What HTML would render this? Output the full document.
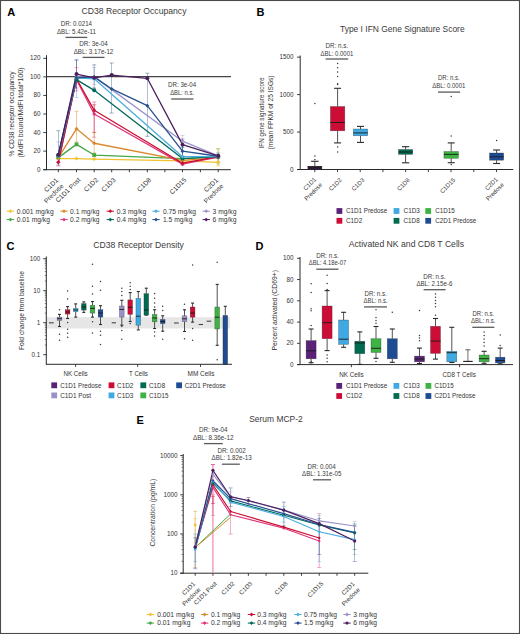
<!DOCTYPE html>
<html><head><meta charset="utf-8"><title>Figure</title>
<style>
html,body{margin:0;padding:0;background:#fff;overflow:hidden;}
svg{display:block;}
text{font-family:"Liberation Sans",sans-serif;}
</style></head><body>
<svg width="520" height="634" viewBox="0 0 520 634">
<rect x="0" y="0" width="520" height="634" fill="#fff"/>
<text x="7.30" y="16.40" font-size="11" fill="#000" font-weight="bold">A</text>
<text x="81.50" y="14.30" font-size="8.8" fill="#3a3a3a" textLength="105.00" lengthAdjust="spacingAndGlyphs">CD38 Receptor Occupancy</text>
<text x="76.40" y="26.00" font-size="6.3" fill="#3a3a3a" text-anchor="middle" textLength="31.30" lengthAdjust="spacingAndGlyphs">DR: 0.0214</text>
<text x="76.40" y="33.80" font-size="6.3" fill="#3a3a3a" text-anchor="middle" textLength="39.00" lengthAdjust="spacingAndGlyphs">ΔBL: 5.42e-11</text>
<line x1="65.50" y1="37.40" x2="87.30" y2="37.40" stroke="#5a5a5a" stroke-width="1.3"/>
<text x="93.50" y="46.00" font-size="6.3" fill="#3a3a3a" text-anchor="middle" textLength="28.60" lengthAdjust="spacingAndGlyphs">DR: 3e-04</text>
<text x="93.50" y="53.80" font-size="6.3" fill="#3a3a3a" text-anchor="middle" textLength="39.70" lengthAdjust="spacingAndGlyphs">ΔBL: 3.17e-12</text>
<line x1="82.60" y1="57.40" x2="104.50" y2="57.40" stroke="#5a5a5a" stroke-width="1.3"/>
<text x="182.10" y="86.90" font-size="6.3" fill="#3a3a3a" text-anchor="middle" textLength="28.10" lengthAdjust="spacingAndGlyphs">DR: 3e-04</text>
<text x="182.10" y="94.60" font-size="6.3" fill="#3a3a3a" text-anchor="middle" textLength="23.80" lengthAdjust="spacingAndGlyphs">ΔBL: n.s.</text>
<line x1="171.20" y1="99.00" x2="193.50" y2="99.00" stroke="#5a5a5a" stroke-width="1.3"/>
<line x1="46.50" y1="76.70" x2="231.00" y2="76.70" stroke="#454545" stroke-width="1.2"/>
<line x1="46.50" y1="55.20" x2="46.50" y2="170.10" stroke="#2b2b2b" stroke-width="1.0"/>
<line x1="43.30" y1="169.70" x2="46.50" y2="169.70" stroke="#2b2b2b" stroke-width="0.9"/>
<text x="40.50" y="171.70" font-size="6.3" fill="#333" text-anchor="end">0</text>
<line x1="43.30" y1="151.14" x2="46.50" y2="151.14" stroke="#2b2b2b" stroke-width="0.9"/>
<text x="40.50" y="153.14" font-size="6.3" fill="#333" text-anchor="end">20</text>
<line x1="43.30" y1="132.58" x2="46.50" y2="132.58" stroke="#2b2b2b" stroke-width="0.9"/>
<text x="40.50" y="134.58" font-size="6.3" fill="#333" text-anchor="end">40</text>
<line x1="43.30" y1="114.02" x2="46.50" y2="114.02" stroke="#2b2b2b" stroke-width="0.9"/>
<text x="40.50" y="116.02" font-size="6.3" fill="#333" text-anchor="end">60</text>
<line x1="43.30" y1="95.46" x2="46.50" y2="95.46" stroke="#2b2b2b" stroke-width="0.9"/>
<text x="40.50" y="97.46" font-size="6.3" fill="#333" text-anchor="end">80</text>
<line x1="43.30" y1="76.90" x2="46.50" y2="76.90" stroke="#2b2b2b" stroke-width="0.9"/>
<text x="40.50" y="78.90" font-size="6.3" fill="#333" text-anchor="end">100</text>
<line x1="43.30" y1="58.34" x2="46.50" y2="58.34" stroke="#2b2b2b" stroke-width="0.9"/>
<text x="40.50" y="60.34" font-size="6.3" fill="#333" text-anchor="end">120</text>
<line x1="43.30" y1="169.70" x2="230.80" y2="169.70" stroke="#2b2b2b" stroke-width="1.0"/>
<line x1="58.30" y1="169.70" x2="58.30" y2="172.30" stroke="#2b2b2b" stroke-width="0.9"/>
<line x1="76.50" y1="169.70" x2="76.50" y2="172.30" stroke="#2b2b2b" stroke-width="0.9"/>
<line x1="94.20" y1="169.70" x2="94.20" y2="172.30" stroke="#2b2b2b" stroke-width="0.9"/>
<line x1="111.70" y1="169.70" x2="111.70" y2="172.30" stroke="#2b2b2b" stroke-width="0.9"/>
<line x1="129.40" y1="169.70" x2="129.40" y2="172.30" stroke="#2b2b2b" stroke-width="0.9"/>
<line x1="147.30" y1="169.70" x2="147.30" y2="172.30" stroke="#2b2b2b" stroke-width="0.9"/>
<line x1="164.90" y1="169.70" x2="164.90" y2="172.30" stroke="#2b2b2b" stroke-width="0.9"/>
<line x1="182.50" y1="169.70" x2="182.50" y2="172.30" stroke="#2b2b2b" stroke-width="0.9"/>
<line x1="200.40" y1="169.70" x2="200.40" y2="172.30" stroke="#2b2b2b" stroke-width="0.9"/>
<line x1="218.20" y1="169.70" x2="218.20" y2="172.30" stroke="#2b2b2b" stroke-width="0.9"/>
<text x="58.60" y="180.70" font-size="6.6" fill="#333" text-anchor="end" transform="rotate(-45 58.60 180.70)">C1D1</text>
<text x="64.00" y="186.30" font-size="6.6" fill="#333" text-anchor="end" transform="rotate(-45 64.00 186.30)">Predose</text>
<text x="80.80" y="180.30" font-size="6.6" fill="#333" text-anchor="end" transform="rotate(-45 80.80 180.30)">C1D1 Post</text>
<text x="98.50" y="180.30" font-size="6.6" fill="#333" text-anchor="end" transform="rotate(-45 98.50 180.30)">C1D2</text>
<text x="116.00" y="180.30" font-size="6.6" fill="#333" text-anchor="end" transform="rotate(-45 116.00 180.30)">C1D3</text>
<text x="151.60" y="180.30" font-size="6.6" fill="#333" text-anchor="end" transform="rotate(-45 151.60 180.30)">C1D8</text>
<text x="186.80" y="180.30" font-size="6.6" fill="#333" text-anchor="end" transform="rotate(-45 186.80 180.30)">C1D15</text>
<text x="218.50" y="180.70" font-size="6.6" fill="#333" text-anchor="end" transform="rotate(-45 218.50 180.70)">C2D1</text>
<text x="223.90" y="186.30" font-size="6.6" fill="#333" text-anchor="end" transform="rotate(-45 223.90 186.30)">Predose</text>
<text x="14.40" y="114.00" font-size="7.3" fill="#333" text-anchor="middle" textLength="85.00" lengthAdjust="spacingAndGlyphs" transform="rotate(-90 14.40 114.00)">% CD38 receptor occupancy</text>
<text x="23.30" y="112.50" font-size="7.3" fill="#333" text-anchor="middle" textLength="90.00" lengthAdjust="spacingAndGlyphs" transform="rotate(-90 23.30 112.50)">(MdFI bound/MdFI total*100)</text>
<line x1="58.30" y1="130.72" x2="58.30" y2="165.06" stroke="#27508f" stroke-width="0.6" opacity="0.75"/>
<line x1="56.30" y1="130.72" x2="60.30" y2="130.72" stroke="#27508f" stroke-width="0.6" opacity="0.75"/>
<line x1="56.30" y1="165.06" x2="60.30" y2="165.06" stroke="#27508f" stroke-width="0.6" opacity="0.75"/>
<line x1="58.30" y1="141.86" x2="58.30" y2="162.28" stroke="#9c93c9" stroke-width="0.6" opacity="0.75"/>
<line x1="56.30" y1="141.86" x2="60.30" y2="141.86" stroke="#9c93c9" stroke-width="0.6" opacity="0.75"/>
<line x1="56.30" y1="162.28" x2="60.30" y2="162.28" stroke="#9c93c9" stroke-width="0.6" opacity="0.75"/>
<line x1="58.30" y1="158.56" x2="58.30" y2="165.99" stroke="#e0357e" stroke-width="0.6" opacity="0.75"/>
<line x1="56.30" y1="158.56" x2="60.30" y2="158.56" stroke="#e0357e" stroke-width="0.6" opacity="0.75"/>
<line x1="56.30" y1="165.99" x2="60.30" y2="165.99" stroke="#e0357e" stroke-width="0.6" opacity="0.75"/>
<line x1="76.50" y1="111.24" x2="76.50" y2="141.86" stroke="#d9882c" stroke-width="0.6" opacity="0.75"/>
<line x1="74.50" y1="111.24" x2="78.50" y2="111.24" stroke="#d9882c" stroke-width="0.6" opacity="0.75"/>
<line x1="74.50" y1="141.86" x2="78.50" y2="141.86" stroke="#d9882c" stroke-width="0.6" opacity="0.75"/>
<line x1="76.50" y1="59.27" x2="76.50" y2="97.32" stroke="#4aaee0" stroke-width="0.6" opacity="0.75"/>
<line x1="74.50" y1="59.27" x2="78.50" y2="59.27" stroke="#4aaee0" stroke-width="0.6" opacity="0.75"/>
<line x1="74.50" y1="97.32" x2="78.50" y2="97.32" stroke="#4aaee0" stroke-width="0.6" opacity="0.75"/>
<line x1="76.50" y1="60.20" x2="76.50" y2="88.04" stroke="#4b1f5e" stroke-width="0.6" opacity="0.75"/>
<line x1="74.50" y1="60.20" x2="78.50" y2="60.20" stroke="#4b1f5e" stroke-width="0.6" opacity="0.75"/>
<line x1="74.50" y1="88.04" x2="78.50" y2="88.04" stroke="#4b1f5e" stroke-width="0.6" opacity="0.75"/>
<line x1="76.50" y1="67.62" x2="76.50" y2="90.82" stroke="#e0357e" stroke-width="0.6" opacity="0.75"/>
<line x1="74.50" y1="67.62" x2="78.50" y2="67.62" stroke="#e0357e" stroke-width="0.6" opacity="0.75"/>
<line x1="74.50" y1="90.82" x2="78.50" y2="90.82" stroke="#e0357e" stroke-width="0.6" opacity="0.75"/>
<line x1="94.20" y1="101.96" x2="94.20" y2="137.22" stroke="#e0357e" stroke-width="0.6" opacity="0.75"/>
<line x1="92.20" y1="101.96" x2="96.20" y2="101.96" stroke="#e0357e" stroke-width="0.6" opacity="0.75"/>
<line x1="92.20" y1="137.22" x2="96.20" y2="137.22" stroke="#e0357e" stroke-width="0.6" opacity="0.75"/>
<line x1="94.20" y1="104.74" x2="94.20" y2="132.58" stroke="#c8102e" stroke-width="0.6" opacity="0.75"/>
<line x1="92.20" y1="104.74" x2="96.20" y2="104.74" stroke="#c8102e" stroke-width="0.6" opacity="0.75"/>
<line x1="92.20" y1="132.58" x2="96.20" y2="132.58" stroke="#c8102e" stroke-width="0.6" opacity="0.75"/>
<line x1="94.20" y1="64.84" x2="94.20" y2="88.04" stroke="#27508f" stroke-width="0.6" opacity="0.75"/>
<line x1="92.20" y1="64.84" x2="96.20" y2="64.84" stroke="#27508f" stroke-width="0.6" opacity="0.75"/>
<line x1="92.20" y1="88.04" x2="96.20" y2="88.04" stroke="#27508f" stroke-width="0.6" opacity="0.75"/>
<line x1="94.20" y1="67.62" x2="94.20" y2="84.32" stroke="#9c93c9" stroke-width="0.6" opacity="0.75"/>
<line x1="92.20" y1="67.62" x2="96.20" y2="67.62" stroke="#9c93c9" stroke-width="0.6" opacity="0.75"/>
<line x1="92.20" y1="84.32" x2="96.20" y2="84.32" stroke="#9c93c9" stroke-width="0.6" opacity="0.75"/>
<line x1="94.20" y1="132.58" x2="94.20" y2="153.00" stroke="#d9882c" stroke-width="0.6" opacity="0.75"/>
<line x1="92.20" y1="132.58" x2="96.20" y2="132.58" stroke="#d9882c" stroke-width="0.6" opacity="0.75"/>
<line x1="92.20" y1="153.00" x2="96.20" y2="153.00" stroke="#d9882c" stroke-width="0.6" opacity="0.75"/>
<line x1="111.70" y1="62.98" x2="111.70" y2="113.09" stroke="#27508f" stroke-width="0.6" opacity="0.75"/>
<line x1="109.70" y1="62.98" x2="113.70" y2="62.98" stroke="#27508f" stroke-width="0.6" opacity="0.75"/>
<line x1="109.70" y1="113.09" x2="113.70" y2="113.09" stroke="#27508f" stroke-width="0.6" opacity="0.75"/>
<line x1="147.30" y1="73.19" x2="147.30" y2="136.29" stroke="#27508f" stroke-width="0.6" opacity="0.75"/>
<line x1="145.30" y1="73.19" x2="149.30" y2="73.19" stroke="#27508f" stroke-width="0.6" opacity="0.75"/>
<line x1="145.30" y1="136.29" x2="149.30" y2="136.29" stroke="#27508f" stroke-width="0.6" opacity="0.75"/>
<line x1="182.50" y1="135.36" x2="182.50" y2="155.78" stroke="#9c93c9" stroke-width="0.6" opacity="0.75"/>
<line x1="180.50" y1="135.36" x2="184.50" y2="135.36" stroke="#9c93c9" stroke-width="0.6" opacity="0.75"/>
<line x1="180.50" y1="155.78" x2="184.50" y2="155.78" stroke="#9c93c9" stroke-width="0.6" opacity="0.75"/>
<line x1="182.50" y1="139.08" x2="182.50" y2="162.28" stroke="#4b1f5e" stroke-width="0.6" opacity="0.75"/>
<line x1="180.50" y1="139.08" x2="184.50" y2="139.08" stroke="#4b1f5e" stroke-width="0.6" opacity="0.75"/>
<line x1="180.50" y1="162.28" x2="184.50" y2="162.28" stroke="#4b1f5e" stroke-width="0.6" opacity="0.75"/>
<line x1="182.50" y1="147.43" x2="182.50" y2="165.06" stroke="#27508f" stroke-width="0.6" opacity="0.75"/>
<line x1="180.50" y1="147.43" x2="184.50" y2="147.43" stroke="#27508f" stroke-width="0.6" opacity="0.75"/>
<line x1="180.50" y1="165.06" x2="184.50" y2="165.06" stroke="#27508f" stroke-width="0.6" opacity="0.75"/>
<line x1="218.20" y1="148.36" x2="218.20" y2="164.13" stroke="#45a845" stroke-width="0.6" opacity="0.75"/>
<line x1="216.20" y1="148.36" x2="220.20" y2="148.36" stroke="#45a845" stroke-width="0.6" opacity="0.75"/>
<line x1="216.20" y1="164.13" x2="220.20" y2="164.13" stroke="#45a845" stroke-width="0.6" opacity="0.75"/>
<line x1="218.20" y1="153.00" x2="218.20" y2="162.28" stroke="#27508f" stroke-width="0.6" opacity="0.75"/>
<line x1="216.20" y1="153.00" x2="220.20" y2="153.00" stroke="#27508f" stroke-width="0.6" opacity="0.75"/>
<line x1="216.20" y1="162.28" x2="220.20" y2="162.28" stroke="#27508f" stroke-width="0.6" opacity="0.75"/>
<line x1="218.20" y1="149.28" x2="218.20" y2="165.99" stroke="#f2c12e" stroke-width="0.6" opacity="0.75"/>
<line x1="216.20" y1="149.28" x2="220.20" y2="149.28" stroke="#f2c12e" stroke-width="0.6" opacity="0.75"/>
<line x1="216.20" y1="165.99" x2="220.20" y2="165.99" stroke="#f2c12e" stroke-width="0.6" opacity="0.75"/>
<polyline points="58.30,158.56 76.50,158.56 94.20,159.03 182.50,160.88 218.20,162.28" fill="none" stroke="#f2c12e" stroke-width="1.3" stroke-linejoin="round"/>
<polyline points="58.30,157.64 76.50,144.37 94.20,155.04 182.50,158.56 218.20,156.71" fill="none" stroke="#45a845" stroke-width="1.3" stroke-linejoin="round"/>
<polyline points="58.30,157.64 76.50,128.87 94.20,143.25 182.50,160.42 218.20,157.64" fill="none" stroke="#d9882c" stroke-width="1.3" stroke-linejoin="round"/>
<polyline points="58.30,162.28 76.50,79.68 94.20,114.02 182.50,164.13 218.20,157.17" fill="none" stroke="#e0357e" stroke-width="1.3" stroke-linejoin="round"/>
<polyline points="58.30,162.28 76.50,78.76 94.20,110.31 182.50,163.20 218.20,156.71" fill="none" stroke="#c8102e" stroke-width="1.3" stroke-linejoin="round"/>
<polyline points="58.30,155.78 76.50,79.68 94.20,90.36 182.50,158.56 218.20,156.71" fill="none" stroke="#00695c" stroke-width="1.3" stroke-linejoin="round"/>
<polyline points="58.30,155.78 76.50,77.83 94.20,78.76 182.50,156.71 218.20,156.71" fill="none" stroke="#4aaee0" stroke-width="1.3" stroke-linejoin="round"/>
<polyline points="58.30,154.85 76.50,76.90 94.20,76.90 182.50,141.21 218.20,155.78" fill="none" stroke="#9c93c9" stroke-width="1.3" stroke-linejoin="round"/>
<polyline points="58.30,154.85 76.50,77.83 94.20,76.90 111.70,88.96 147.30,105.67 182.50,151.14 218.20,156.24" fill="none" stroke="#27508f" stroke-width="1.3" stroke-linejoin="round"/>
<polyline points="58.30,154.85 76.50,74.12 94.20,77.83 111.70,75.04 147.30,78.29 182.50,144.64 218.20,155.78" fill="none" stroke="#4b1f5e" stroke-width="1.3" stroke-linejoin="round"/>
<path d="M58.30 156.56L60.30 158.56L58.30 160.56L56.30 158.56Z" fill="#f2c12e"/>
<path d="M76.50 156.56L78.50 158.56L76.50 160.56L74.50 158.56Z" fill="#f2c12e"/>
<path d="M94.20 157.03L96.20 159.03L94.20 161.03L92.20 159.03Z" fill="#f2c12e"/>
<path d="M182.50 158.88L184.50 160.88L182.50 162.88L180.50 160.88Z" fill="#f2c12e"/>
<path d="M218.20 160.28L220.20 162.28L218.20 164.28L216.20 162.28Z" fill="#f2c12e"/>
<rect x="56.40" y="155.74" width="3.80" height="3.80" fill="#45a845" stroke="none" stroke-width="0.6"/>
<rect x="74.60" y="142.47" width="3.80" height="3.80" fill="#45a845" stroke="none" stroke-width="0.6"/>
<rect x="92.30" y="153.14" width="3.80" height="3.80" fill="#45a845" stroke="none" stroke-width="0.6"/>
<rect x="180.60" y="156.66" width="3.80" height="3.80" fill="#45a845" stroke="none" stroke-width="0.6"/>
<rect x="216.30" y="154.81" width="3.80" height="3.80" fill="#45a845" stroke="none" stroke-width="0.6"/>
<path d="M58.30 155.64L60.30 157.64L58.30 159.64L56.30 157.64Z" fill="#d9882c"/>
<path d="M76.50 126.87L78.50 128.87L76.50 130.87L74.50 128.87Z" fill="#d9882c"/>
<path d="M94.20 141.25L96.20 143.25L94.20 145.25L92.20 143.25Z" fill="#d9882c"/>
<path d="M182.50 158.42L184.50 160.42L182.50 162.42L180.50 160.42Z" fill="#d9882c"/>
<path d="M218.20 155.64L220.20 157.64L218.20 159.64L216.20 157.64Z" fill="#d9882c"/>
<path d="M58.30 160.28L60.30 162.28L58.30 164.28L56.30 162.28Z" fill="#e0357e"/>
<path d="M76.50 77.68L78.50 79.68L76.50 81.68L74.50 79.68Z" fill="#e0357e"/>
<path d="M94.20 112.02L96.20 114.02L94.20 116.02L92.20 114.02Z" fill="#e0357e"/>
<path d="M182.50 162.13L184.50 164.13L182.50 166.13L180.50 164.13Z" fill="#e0357e"/>
<path d="M218.20 155.17L220.20 157.17L218.20 159.17L216.20 157.17Z" fill="#e0357e"/>
<path d="M58.30 160.28L60.30 162.28L58.30 164.28L56.30 162.28Z" fill="#c8102e"/>
<path d="M76.50 76.76L78.50 78.76L76.50 80.76L74.50 78.76Z" fill="#c8102e"/>
<path d="M94.20 108.31L96.20 110.31L94.20 112.31L92.20 110.31Z" fill="#c8102e"/>
<path d="M182.50 161.20L184.50 163.20L182.50 165.20L180.50 163.20Z" fill="#c8102e"/>
<path d="M218.20 154.71L220.20 156.71L218.20 158.71L216.20 156.71Z" fill="#c8102e"/>
<circle cx="58.30" cy="155.78" r="2.0" fill="#00695c"/>
<circle cx="76.50" cy="79.68" r="2.0" fill="#00695c"/>
<circle cx="94.20" cy="90.36" r="2.0" fill="#00695c"/>
<circle cx="182.50" cy="158.56" r="2.0" fill="#00695c"/>
<circle cx="218.20" cy="156.71" r="2.0" fill="#00695c"/>
<path d="M58.30 153.78L60.30 155.78L58.30 157.78L56.30 155.78Z" fill="#4aaee0"/>
<path d="M76.50 75.83L78.50 77.83L76.50 79.83L74.50 77.83Z" fill="#4aaee0"/>
<path d="M94.20 76.76L96.20 78.76L94.20 80.76L92.20 78.76Z" fill="#4aaee0"/>
<path d="M182.50 154.71L184.50 156.71L182.50 158.71L180.50 156.71Z" fill="#4aaee0"/>
<path d="M218.20 154.71L220.20 156.71L218.20 158.71L216.20 156.71Z" fill="#4aaee0"/>
<path d="M58.30 152.85L60.30 154.85L58.30 156.85L56.30 154.85Z" fill="#9c93c9"/>
<path d="M76.50 74.90L78.50 76.90L76.50 78.90L74.50 76.90Z" fill="#9c93c9"/>
<path d="M94.20 74.90L96.20 76.90L94.20 78.90L92.20 76.90Z" fill="#9c93c9"/>
<path d="M182.50 139.21L184.50 141.21L182.50 143.21L180.50 141.21Z" fill="#9c93c9"/>
<path d="M218.20 153.78L220.20 155.78L218.20 157.78L216.20 155.78Z" fill="#9c93c9"/>
<path d="M58.30 152.85L60.30 154.85L58.30 156.85L56.30 154.85Z" fill="#27508f"/>
<path d="M76.50 75.83L78.50 77.83L76.50 79.83L74.50 77.83Z" fill="#27508f"/>
<path d="M94.20 74.90L96.20 76.90L94.20 78.90L92.20 76.90Z" fill="#27508f"/>
<path d="M111.70 86.96L113.70 88.96L111.70 90.96L109.70 88.96Z" fill="#27508f"/>
<path d="M147.30 103.67L149.30 105.67L147.30 107.67L145.30 105.67Z" fill="#27508f"/>
<path d="M182.50 149.14L184.50 151.14L182.50 153.14L180.50 151.14Z" fill="#27508f"/>
<path d="M218.20 154.24L220.20 156.24L218.20 158.24L216.20 156.24Z" fill="#27508f"/>
<circle cx="58.30" cy="154.85" r="2.0" fill="#4b1f5e"/>
<circle cx="76.50" cy="74.12" r="2.0" fill="#4b1f5e"/>
<circle cx="94.20" cy="77.83" r="2.0" fill="#4b1f5e"/>
<circle cx="111.70" cy="75.04" r="2.0" fill="#4b1f5e"/>
<circle cx="147.30" cy="78.29" r="2.0" fill="#4b1f5e"/>
<circle cx="182.50" cy="144.64" r="2.0" fill="#4b1f5e"/>
<circle cx="218.20" cy="155.78" r="2.0" fill="#4b1f5e"/>
<line x1="6.70" y1="211.20" x2="14.10" y2="211.20" stroke="#f2c12e" stroke-width="1.0"/>
<path d="M10.40 209.30L12.30 211.20L10.40 213.10L8.50 211.20Z" fill="#f2c12e"/>
<text x="16.80" y="213.55" font-size="6.7" fill="#333">0.001 mg/kg</text>
<line x1="6.70" y1="219.60" x2="14.10" y2="219.60" stroke="#45a845" stroke-width="1.0"/>
<path d="M10.40 217.70L12.30 219.60L10.40 221.50L8.50 219.60Z" fill="#45a845"/>
<text x="16.80" y="221.95" font-size="6.7" fill="#333">0.01 mg/kg</text>
<line x1="60.30" y1="211.20" x2="67.70" y2="211.20" stroke="#d9882c" stroke-width="1.0"/>
<path d="M64.00 209.30L65.90 211.20L64.00 213.10L62.10 211.20Z" fill="#d9882c"/>
<text x="70.10" y="213.55" font-size="6.7" fill="#333">0.1 mg/kg</text>
<line x1="60.30" y1="219.60" x2="67.70" y2="219.60" stroke="#e0357e" stroke-width="1.0"/>
<path d="M64.00 217.70L65.90 219.60L64.00 221.50L62.10 219.60Z" fill="#e0357e"/>
<text x="70.10" y="221.95" font-size="6.7" fill="#333">0.2 mg/kg</text>
<line x1="106.60" y1="211.20" x2="114.00" y2="211.20" stroke="#c8102e" stroke-width="1.0"/>
<path d="M110.30 209.30L112.20 211.20L110.30 213.10L108.40 211.20Z" fill="#c8102e"/>
<text x="116.80" y="213.55" font-size="6.7" fill="#333">0.3 mg/kg</text>
<line x1="106.60" y1="219.60" x2="114.00" y2="219.60" stroke="#00695c" stroke-width="1.0"/>
<path d="M110.30 217.70L112.20 219.60L110.30 221.50L108.40 219.60Z" fill="#00695c"/>
<text x="116.80" y="221.95" font-size="6.7" fill="#333">0.4 mg/kg</text>
<line x1="152.30" y1="211.20" x2="159.70" y2="211.20" stroke="#4aaee0" stroke-width="1.0"/>
<path d="M156.00 209.30L157.90 211.20L156.00 213.10L154.10 211.20Z" fill="#4aaee0"/>
<text x="163.00" y="213.55" font-size="6.7" fill="#333">0.75 mg/kg</text>
<line x1="152.30" y1="219.60" x2="159.70" y2="219.60" stroke="#27508f" stroke-width="1.0"/>
<path d="M156.00 217.70L157.90 219.60L156.00 221.50L154.10 219.60Z" fill="#27508f"/>
<text x="163.00" y="221.95" font-size="6.7" fill="#333">1.5 mg/kg</text>
<line x1="202.50" y1="211.20" x2="209.90" y2="211.20" stroke="#9c93c9" stroke-width="1.0"/>
<path d="M206.20 209.30L208.10 211.20L206.20 213.10L204.30 211.20Z" fill="#9c93c9"/>
<text x="212.60" y="213.55" font-size="6.7" fill="#333">3 mg/kg</text>
<line x1="202.50" y1="219.60" x2="209.90" y2="219.60" stroke="#4b1f5e" stroke-width="1.0"/>
<path d="M206.20 217.70L208.10 219.60L206.20 221.50L204.30 219.60Z" fill="#4b1f5e"/>
<text x="212.60" y="221.95" font-size="6.7" fill="#333">6 mg/kg</text>
<text x="256.60" y="16.20" font-size="11" fill="#000" font-weight="bold">B</text>
<text x="340.00" y="31.90" font-size="8.8" fill="#3a3a3a" textLength="124.60" lengthAdjust="spacingAndGlyphs">Type I IFN Gene Signature Score</text>
<text x="336.90" y="48.00" font-size="6.5" fill="#3a3a3a" text-anchor="middle" textLength="22.60" lengthAdjust="spacingAndGlyphs">DR: n.s.</text>
<text x="336.90" y="55.70" font-size="6.5" fill="#3a3a3a" text-anchor="middle" textLength="32.70" lengthAdjust="spacingAndGlyphs">ΔBL: 0.0001</text>
<line x1="325.60" y1="59.00" x2="348.20" y2="59.00" stroke="#5a5a5a" stroke-width="1.3"/>
<text x="448.80" y="80.40" font-size="6.5" fill="#3a3a3a" text-anchor="middle" textLength="21.60" lengthAdjust="spacingAndGlyphs">DR: n.s.</text>
<text x="448.80" y="88.00" font-size="6.5" fill="#3a3a3a" text-anchor="middle" textLength="33.20" lengthAdjust="spacingAndGlyphs">ΔBL: 0.0001</text>
<line x1="438.00" y1="92.10" x2="460.10" y2="92.10" stroke="#5a5a5a" stroke-width="1.3"/>
<line x1="300.20" y1="55.50" x2="300.20" y2="169.90" stroke="#2b2b2b" stroke-width="1.0"/>
<line x1="297.00" y1="169.50" x2="300.20" y2="169.50" stroke="#2b2b2b" stroke-width="0.9"/>
<text x="293.50" y="171.50" font-size="6.3" fill="#333" text-anchor="end">0</text>
<line x1="297.00" y1="132.05" x2="300.20" y2="132.05" stroke="#2b2b2b" stroke-width="0.9"/>
<text x="293.50" y="134.05" font-size="6.3" fill="#333" text-anchor="end">500</text>
<line x1="297.00" y1="94.60" x2="300.20" y2="94.60" stroke="#2b2b2b" stroke-width="0.9"/>
<text x="293.50" y="96.60" font-size="6.3" fill="#333" text-anchor="end">1000</text>
<line x1="297.00" y1="57.15" x2="300.20" y2="57.15" stroke="#2b2b2b" stroke-width="0.9"/>
<text x="293.50" y="59.15" font-size="6.3" fill="#333" text-anchor="end">1500</text>
<line x1="297.00" y1="169.50" x2="513.30" y2="169.50" stroke="#2b2b2b" stroke-width="1.0"/>
<line x1="314.80" y1="169.50" x2="314.80" y2="172.10" stroke="#2b2b2b" stroke-width="0.9"/>
<line x1="337.51" y1="169.50" x2="337.51" y2="172.10" stroke="#2b2b2b" stroke-width="0.9"/>
<line x1="360.22" y1="169.50" x2="360.22" y2="172.10" stroke="#2b2b2b" stroke-width="0.9"/>
<line x1="382.93" y1="169.50" x2="382.93" y2="172.10" stroke="#2b2b2b" stroke-width="0.9"/>
<line x1="405.64" y1="169.50" x2="405.64" y2="172.10" stroke="#2b2b2b" stroke-width="0.9"/>
<line x1="428.35" y1="169.50" x2="428.35" y2="172.10" stroke="#2b2b2b" stroke-width="0.9"/>
<line x1="451.06" y1="169.50" x2="451.06" y2="172.10" stroke="#2b2b2b" stroke-width="0.9"/>
<line x1="473.77" y1="169.50" x2="473.77" y2="172.10" stroke="#2b2b2b" stroke-width="0.9"/>
<line x1="496.48" y1="169.50" x2="496.48" y2="172.10" stroke="#2b2b2b" stroke-width="0.9"/>
<text x="316.60" y="179.90" font-size="6.0" fill="#333" text-anchor="end" transform="rotate(-45 316.60 179.90)">C1D1</text>
<text x="322.60" y="185.20" font-size="6.0" fill="#333" text-anchor="end" transform="rotate(-45 322.60 185.20)">Predose</text>
<text x="342.11" y="180.50" font-size="6.0" fill="#333" text-anchor="end" transform="rotate(-45 342.11 180.50)">C1D2</text>
<text x="364.82" y="180.50" font-size="6.0" fill="#333" text-anchor="end" transform="rotate(-45 364.82 180.50)">C1D3</text>
<text x="410.24" y="180.50" font-size="6.0" fill="#333" text-anchor="end" transform="rotate(-45 410.24 180.50)">C1D8</text>
<text x="455.66" y="180.50" font-size="6.0" fill="#333" text-anchor="end" transform="rotate(-45 455.66 180.50)">C1D15</text>
<text x="498.28" y="179.90" font-size="6.0" fill="#333" text-anchor="end" transform="rotate(-45 498.28 179.90)">C2D1</text>
<text x="504.28" y="185.20" font-size="6.0" fill="#333" text-anchor="end" transform="rotate(-45 504.28 185.20)">Predose</text>
<text x="264.30" y="112.90" font-size="7.6" fill="#333" text-anchor="middle" textLength="71.00" lengthAdjust="spacingAndGlyphs" transform="rotate(-90 264.30 112.90)">IFN gene signature score</text>
<text x="272.50" y="112.50" font-size="7.6" fill="#333" text-anchor="middle" textLength="74.00" lengthAdjust="spacingAndGlyphs" transform="rotate(-90 272.50 112.50)">(mean FPKM of 25 ISGs)</text>
<line x1="314.85" y1="161.30" x2="314.85" y2="166.30" stroke="#333" stroke-width="0.85"/>
<line x1="314.85" y1="169.40" x2="314.85" y2="169.40" stroke="#333" stroke-width="0.85"/>
<line x1="311.10" y1="161.30" x2="318.60" y2="161.30" stroke="#2a2a2a" stroke-width="1.1"/>
<line x1="311.10" y1="169.40" x2="318.60" y2="169.40" stroke="#2a2a2a" stroke-width="1.1"/>
<rect x="307.80" y="166.30" width="14.10" height="3.10" fill="#2e1a3a" stroke="#222" stroke-width="0.5" stroke-opacity="0.55"/>
<line x1="307.80" y1="166.80" x2="321.90" y2="166.80" stroke="#1a1a1a" stroke-width="0.9"/>
<circle cx="314.85" cy="159.60" r="0.75" fill="#3a3a3a"/>
<circle cx="314.85" cy="155.90" r="0.75" fill="#3a3a3a"/>
<circle cx="314.85" cy="103.60" r="0.75" fill="#3a3a3a"/>
<line x1="337.60" y1="88.30" x2="337.60" y2="106.50" stroke="#333" stroke-width="0.85"/>
<line x1="337.60" y1="130.80" x2="337.60" y2="142.90" stroke="#333" stroke-width="0.85"/>
<line x1="334.10" y1="88.30" x2="341.10" y2="88.30" stroke="#2a2a2a" stroke-width="1.1"/>
<line x1="334.10" y1="142.90" x2="341.10" y2="142.90" stroke="#2a2a2a" stroke-width="1.1"/>
<rect x="330.40" y="106.50" width="14.40" height="24.30" fill="#cc0e36" stroke="#222" stroke-width="0.5" stroke-opacity="0.55"/>
<line x1="330.40" y1="122.50" x2="344.80" y2="122.50" stroke="#1a1a1a" stroke-width="0.9"/>
<circle cx="337.60" cy="63.50" r="0.75" fill="#3a3a3a"/>
<circle cx="337.60" cy="67.80" r="0.75" fill="#3a3a3a"/>
<circle cx="337.60" cy="72.00" r="0.75" fill="#3a3a3a"/>
<circle cx="337.60" cy="76.50" r="0.75" fill="#3a3a3a"/>
<circle cx="337.60" cy="83.80" r="0.75" fill="#3a3a3a"/>
<circle cx="337.60" cy="84.60" r="0.75" fill="#3a3a3a"/>
<circle cx="337.60" cy="147.00" r="0.75" fill="#3a3a3a"/>
<circle cx="337.60" cy="152.00" r="0.75" fill="#3a3a3a"/>
<line x1="360.50" y1="126.40" x2="360.50" y2="129.00" stroke="#333" stroke-width="0.85"/>
<line x1="360.50" y1="135.80" x2="360.50" y2="142.40" stroke="#333" stroke-width="0.85"/>
<line x1="357.00" y1="126.40" x2="364.00" y2="126.40" stroke="#2a2a2a" stroke-width="1.1"/>
<line x1="357.00" y1="142.40" x2="364.00" y2="142.40" stroke="#2a2a2a" stroke-width="1.1"/>
<rect x="353.30" y="129.00" width="14.40" height="6.80" fill="#3fa9e3" stroke="#222" stroke-width="0.5" stroke-opacity="0.55"/>
<line x1="353.30" y1="132.90" x2="367.70" y2="132.90" stroke="#1a1a1a" stroke-width="0.9"/>
<line x1="405.60" y1="146.70" x2="405.60" y2="149.50" stroke="#333" stroke-width="0.85"/>
<line x1="405.60" y1="154.40" x2="405.60" y2="162.80" stroke="#333" stroke-width="0.85"/>
<line x1="402.00" y1="146.70" x2="409.20" y2="146.70" stroke="#2a2a2a" stroke-width="1.1"/>
<line x1="402.00" y1="162.80" x2="409.20" y2="162.80" stroke="#2a2a2a" stroke-width="1.1"/>
<rect x="398.50" y="149.50" width="14.20" height="4.90" fill="#006b50" stroke="#222" stroke-width="0.5" stroke-opacity="0.55"/>
<line x1="398.50" y1="152.00" x2="412.70" y2="152.00" stroke="#1a1a1a" stroke-width="0.9"/>
<line x1="451.20" y1="142.90" x2="451.20" y2="151.50" stroke="#333" stroke-width="0.85"/>
<line x1="451.20" y1="158.30" x2="451.20" y2="162.70" stroke="#333" stroke-width="0.85"/>
<line x1="447.70" y1="142.90" x2="454.70" y2="142.90" stroke="#2a2a2a" stroke-width="1.1"/>
<line x1="447.70" y1="162.70" x2="454.70" y2="162.70" stroke="#2a2a2a" stroke-width="1.1"/>
<rect x="443.95" y="151.50" width="14.50" height="6.80" fill="#3db343" stroke="#222" stroke-width="0.5" stroke-opacity="0.55"/>
<line x1="443.95" y1="154.40" x2="458.45" y2="154.40" stroke="#1a1a1a" stroke-width="0.9"/>
<circle cx="451.20" cy="96.50" r="0.75" fill="#3a3a3a"/>
<circle cx="451.20" cy="136.10" r="0.75" fill="#3a3a3a"/>
<circle cx="451.20" cy="164.50" r="0.75" fill="#3a3a3a"/>
<line x1="496.60" y1="150.00" x2="496.60" y2="153.00" stroke="#333" stroke-width="0.85"/>
<line x1="496.60" y1="160.20" x2="496.60" y2="163.50" stroke="#333" stroke-width="0.85"/>
<line x1="493.10" y1="150.00" x2="500.10" y2="150.00" stroke="#2a2a2a" stroke-width="1.1"/>
<line x1="493.10" y1="163.50" x2="500.10" y2="163.50" stroke="#2a2a2a" stroke-width="1.1"/>
<rect x="489.55" y="153.00" width="14.10" height="7.20" fill="#1e4c93" stroke="#222" stroke-width="0.5" stroke-opacity="0.55"/>
<line x1="489.55" y1="156.80" x2="503.65" y2="156.80" stroke="#1a1a1a" stroke-width="0.9"/>
<circle cx="496.60" cy="140.40" r="0.75" fill="#3a3a3a"/>
<rect x="336.50" y="208.10" width="5.80" height="5.80" fill="#5b2378" stroke="none" stroke-width="0.6"/>
<text x="345.90" y="213.30" font-size="6.6" fill="#333" textLength="41.30" lengthAdjust="spacingAndGlyphs">C1D1 Predose</text>
<rect x="336.50" y="217.90" width="5.80" height="5.80" fill="#cc0e36" stroke="none" stroke-width="0.6"/>
<text x="345.90" y="223.10" font-size="6.6" fill="#333" textLength="16.40" lengthAdjust="spacingAndGlyphs">C1D2</text>
<rect x="393.60" y="208.10" width="5.80" height="5.80" fill="#3fa9e3" stroke="none" stroke-width="0.6"/>
<text x="403.50" y="213.30" font-size="6.6" fill="#333" textLength="16.40" lengthAdjust="spacingAndGlyphs">C1D3</text>
<rect x="393.60" y="217.90" width="5.80" height="5.80" fill="#006b50" stroke="none" stroke-width="0.6"/>
<text x="403.50" y="223.10" font-size="6.6" fill="#333" textLength="16.20" lengthAdjust="spacingAndGlyphs">C1D8</text>
<rect x="425.30" y="208.10" width="5.80" height="5.80" fill="#3db343" stroke="none" stroke-width="0.6"/>
<text x="435.30" y="213.30" font-size="6.6" fill="#333" textLength="19.40" lengthAdjust="spacingAndGlyphs">C1D15</text>
<rect x="425.30" y="217.90" width="5.80" height="5.80" fill="#1e4c93" stroke="none" stroke-width="0.6"/>
<text x="435.30" y="223.10" font-size="6.6" fill="#333" textLength="41.00" lengthAdjust="spacingAndGlyphs">C2D1 Predose</text>
<text x="6.60" y="250.00" font-size="11" fill="#000" font-weight="bold">C</text>
<text x="93.20" y="247.70" font-size="8.8" fill="#3a3a3a" textLength="90.70" lengthAdjust="spacingAndGlyphs">CD38 Receptor Density</text>
<rect x="47.00" y="317.20" width="183.00" height="11.30" fill="#e6e6e6" stroke="none" stroke-width="0.6"/>
<line x1="46.30" y1="256.50" x2="46.30" y2="364.60" stroke="#2b2b2b" stroke-width="1.0"/>
<line x1="43.20" y1="258.70" x2="46.30" y2="258.70" stroke="#2b2b2b" stroke-width="0.9"/>
<text x="40.20" y="260.80" font-size="6.3" fill="#333" text-anchor="end">100</text>
<line x1="43.20" y1="290.70" x2="46.30" y2="290.70" stroke="#2b2b2b" stroke-width="0.9"/>
<text x="40.20" y="292.80" font-size="6.3" fill="#333" text-anchor="end">10</text>
<line x1="43.20" y1="322.70" x2="46.30" y2="322.70" stroke="#2b2b2b" stroke-width="0.9"/>
<text x="40.20" y="324.80" font-size="6.3" fill="#333" text-anchor="end">1</text>
<line x1="43.20" y1="354.70" x2="46.30" y2="354.70" stroke="#2b2b2b" stroke-width="0.9"/>
<text x="40.20" y="356.80" font-size="6.3" fill="#333" text-anchor="end">0.1</text>
<line x1="44.80" y1="345.07" x2="46.30" y2="345.07" stroke="#2b2b2b" stroke-width="0.6"/>
<line x1="44.80" y1="339.43" x2="46.30" y2="339.43" stroke="#2b2b2b" stroke-width="0.6"/>
<line x1="44.80" y1="335.43" x2="46.30" y2="335.43" stroke="#2b2b2b" stroke-width="0.6"/>
<line x1="44.80" y1="332.33" x2="46.30" y2="332.33" stroke="#2b2b2b" stroke-width="0.6"/>
<line x1="44.80" y1="329.80" x2="46.30" y2="329.80" stroke="#2b2b2b" stroke-width="0.6"/>
<line x1="44.80" y1="327.66" x2="46.30" y2="327.66" stroke="#2b2b2b" stroke-width="0.6"/>
<line x1="44.80" y1="325.80" x2="46.30" y2="325.80" stroke="#2b2b2b" stroke-width="0.6"/>
<line x1="44.80" y1="324.16" x2="46.30" y2="324.16" stroke="#2b2b2b" stroke-width="0.6"/>
<line x1="44.80" y1="313.07" x2="46.30" y2="313.07" stroke="#2b2b2b" stroke-width="0.6"/>
<line x1="44.80" y1="307.43" x2="46.30" y2="307.43" stroke="#2b2b2b" stroke-width="0.6"/>
<line x1="44.80" y1="303.43" x2="46.30" y2="303.43" stroke="#2b2b2b" stroke-width="0.6"/>
<line x1="44.80" y1="300.33" x2="46.30" y2="300.33" stroke="#2b2b2b" stroke-width="0.6"/>
<line x1="44.80" y1="297.80" x2="46.30" y2="297.80" stroke="#2b2b2b" stroke-width="0.6"/>
<line x1="44.80" y1="295.66" x2="46.30" y2="295.66" stroke="#2b2b2b" stroke-width="0.6"/>
<line x1="44.80" y1="293.80" x2="46.30" y2="293.80" stroke="#2b2b2b" stroke-width="0.6"/>
<line x1="44.80" y1="292.16" x2="46.30" y2="292.16" stroke="#2b2b2b" stroke-width="0.6"/>
<line x1="44.80" y1="281.07" x2="46.30" y2="281.07" stroke="#2b2b2b" stroke-width="0.6"/>
<line x1="44.80" y1="275.43" x2="46.30" y2="275.43" stroke="#2b2b2b" stroke-width="0.6"/>
<line x1="44.80" y1="271.43" x2="46.30" y2="271.43" stroke="#2b2b2b" stroke-width="0.6"/>
<line x1="44.80" y1="268.33" x2="46.30" y2="268.33" stroke="#2b2b2b" stroke-width="0.6"/>
<line x1="44.80" y1="265.80" x2="46.30" y2="265.80" stroke="#2b2b2b" stroke-width="0.6"/>
<line x1="44.80" y1="263.66" x2="46.30" y2="263.66" stroke="#2b2b2b" stroke-width="0.6"/>
<line x1="44.80" y1="261.80" x2="46.30" y2="261.80" stroke="#2b2b2b" stroke-width="0.6"/>
<line x1="44.80" y1="260.16" x2="46.30" y2="260.16" stroke="#2b2b2b" stroke-width="0.6"/>
<line x1="45.90" y1="364.30" x2="232.00" y2="364.30" stroke="#2b2b2b" stroke-width="1.0"/>
<line x1="75.60" y1="364.30" x2="75.60" y2="366.90" stroke="#2b2b2b" stroke-width="0.9"/>
<line x1="137.70" y1="364.30" x2="137.70" y2="366.90" stroke="#2b2b2b" stroke-width="0.9"/>
<line x1="200.50" y1="364.30" x2="200.50" y2="366.90" stroke="#2b2b2b" stroke-width="0.9"/>
<text x="75.60" y="375.70" font-size="6.8" fill="#333" text-anchor="middle" textLength="24.20" lengthAdjust="spacingAndGlyphs">NK Cells</text>
<text x="138.50" y="376.00" font-size="6.8" fill="#333" text-anchor="middle" textLength="18.80" lengthAdjust="spacingAndGlyphs">T Cells</text>
<text x="201.00" y="376.30" font-size="6.8" fill="#333" text-anchor="middle" textLength="26.90" lengthAdjust="spacingAndGlyphs">MM Cells</text>
<text x="24.40" y="310.50" font-size="7.4" fill="#333" text-anchor="middle" textLength="79.00" lengthAdjust="spacingAndGlyphs" transform="rotate(-90 24.40 310.50)">Fold change from baseline</text>
<line x1="49.00" y1="322.80" x2="53.70" y2="322.80" stroke="#444" stroke-width="1.1"/>
<line x1="59.50" y1="314.40" x2="59.50" y2="317.10" stroke="#333" stroke-width="0.85"/>
<line x1="59.50" y1="320.50" x2="59.50" y2="326.50" stroke="#333" stroke-width="0.85"/>
<line x1="58.00" y1="314.40" x2="61.00" y2="314.40" stroke="#2a2a2a" stroke-width="1.1"/>
<line x1="58.00" y1="326.50" x2="61.00" y2="326.50" stroke="#2a2a2a" stroke-width="1.1"/>
<rect x="57.15" y="317.10" width="4.70" height="3.40" fill="#9a91c8" stroke="#222" stroke-width="0.5" stroke-opacity="0.55"/>
<line x1="57.15" y1="318.70" x2="61.85" y2="318.70" stroke="#1a1a1a" stroke-width="0.9"/>
<circle cx="59.50" cy="309.70" r="0.75" fill="#3a3a3a"/>
<circle cx="59.50" cy="334.30" r="0.75" fill="#3a3a3a"/>
<circle cx="59.50" cy="340.20" r="0.75" fill="#3a3a3a"/>
<line x1="67.60" y1="306.60" x2="67.60" y2="309.70" stroke="#333" stroke-width="0.85"/>
<line x1="67.60" y1="314.10" x2="67.60" y2="318.50" stroke="#333" stroke-width="0.85"/>
<line x1="66.10" y1="306.60" x2="69.10" y2="306.60" stroke="#2a2a2a" stroke-width="1.1"/>
<line x1="66.10" y1="318.50" x2="69.10" y2="318.50" stroke="#2a2a2a" stroke-width="1.1"/>
<rect x="65.25" y="309.70" width="4.70" height="4.40" fill="#cc0e36" stroke="#222" stroke-width="0.5" stroke-opacity="0.55"/>
<line x1="65.25" y1="312.00" x2="69.95" y2="312.00" stroke="#1a1a1a" stroke-width="0.9"/>
<circle cx="67.60" cy="290.90" r="0.75" fill="#3a3a3a"/>
<circle cx="67.60" cy="298.90" r="0.75" fill="#3a3a3a"/>
<circle cx="67.60" cy="322.50" r="0.75" fill="#3a3a3a"/>
<circle cx="67.60" cy="329.20" r="0.75" fill="#3a3a3a"/>
<circle cx="67.60" cy="333.30" r="0.75" fill="#3a3a3a"/>
<circle cx="67.60" cy="337.30" r="0.75" fill="#3a3a3a"/>
<line x1="75.70" y1="303.90" x2="75.70" y2="308.40" stroke="#333" stroke-width="0.85"/>
<line x1="75.70" y1="311.70" x2="75.70" y2="317.10" stroke="#333" stroke-width="0.85"/>
<line x1="74.20" y1="303.90" x2="77.20" y2="303.90" stroke="#2a2a2a" stroke-width="1.1"/>
<line x1="74.20" y1="317.10" x2="77.20" y2="317.10" stroke="#2a2a2a" stroke-width="1.1"/>
<rect x="73.35" y="308.40" width="4.70" height="3.30" fill="#3fa9e3" stroke="#222" stroke-width="0.5" stroke-opacity="0.55"/>
<line x1="73.35" y1="310.00" x2="78.05" y2="310.00" stroke="#1a1a1a" stroke-width="0.9"/>
<line x1="83.80" y1="301.90" x2="83.80" y2="303.60" stroke="#333" stroke-width="0.85"/>
<line x1="83.80" y1="310.10" x2="83.80" y2="312.40" stroke="#333" stroke-width="0.85"/>
<line x1="82.30" y1="301.90" x2="85.30" y2="301.90" stroke="#2a2a2a" stroke-width="1.1"/>
<line x1="82.30" y1="312.40" x2="85.30" y2="312.40" stroke="#2a2a2a" stroke-width="1.1"/>
<rect x="81.45" y="303.60" width="4.70" height="6.50" fill="#006b50" stroke="#222" stroke-width="0.5" stroke-opacity="0.55"/>
<line x1="81.45" y1="307.00" x2="86.15" y2="307.00" stroke="#1a1a1a" stroke-width="0.9"/>
<line x1="92.50" y1="301.60" x2="92.50" y2="305.30" stroke="#333" stroke-width="0.85"/>
<line x1="92.50" y1="313.10" x2="92.50" y2="317.10" stroke="#333" stroke-width="0.85"/>
<line x1="91.00" y1="301.60" x2="94.00" y2="301.60" stroke="#2a2a2a" stroke-width="1.1"/>
<line x1="91.00" y1="317.10" x2="94.00" y2="317.10" stroke="#2a2a2a" stroke-width="1.1"/>
<rect x="90.15" y="305.30" width="4.70" height="7.80" fill="#3db343" stroke="#222" stroke-width="0.5" stroke-opacity="0.55"/>
<line x1="90.15" y1="308.40" x2="94.85" y2="308.40" stroke="#1a1a1a" stroke-width="0.9"/>
<circle cx="92.50" cy="264.20" r="0.75" fill="#3a3a3a"/>
<circle cx="92.50" cy="286.20" r="0.75" fill="#3a3a3a"/>
<circle cx="92.50" cy="294.00" r="0.75" fill="#3a3a3a"/>
<circle cx="92.50" cy="321.80" r="0.75" fill="#3a3a3a"/>
<circle cx="92.50" cy="333.00" r="0.75" fill="#3a3a3a"/>
<line x1="100.50" y1="305.70" x2="100.50" y2="309.70" stroke="#333" stroke-width="0.85"/>
<line x1="100.50" y1="317.10" x2="100.50" y2="324.50" stroke="#333" stroke-width="0.85"/>
<line x1="99.00" y1="305.70" x2="102.00" y2="305.70" stroke="#2a2a2a" stroke-width="1.1"/>
<line x1="99.00" y1="324.50" x2="102.00" y2="324.50" stroke="#2a2a2a" stroke-width="1.1"/>
<rect x="98.15" y="309.70" width="4.70" height="7.40" fill="#1e4c93" stroke="#222" stroke-width="0.5" stroke-opacity="0.55"/>
<line x1="98.15" y1="313.00" x2="102.85" y2="313.00" stroke="#1a1a1a" stroke-width="0.9"/>
<circle cx="100.50" cy="281.40" r="0.75" fill="#3a3a3a"/>
<circle cx="100.50" cy="290.20" r="0.75" fill="#3a3a3a"/>
<circle cx="100.50" cy="331.20" r="0.75" fill="#3a3a3a"/>
<circle cx="100.50" cy="335.30" r="0.75" fill="#3a3a3a"/>
<circle cx="100.50" cy="344.50" r="0.75" fill="#3a3a3a"/>
<line x1="111.70" y1="322.80" x2="116.00" y2="322.80" stroke="#444" stroke-width="1.1"/>
<line x1="121.80" y1="300.30" x2="121.80" y2="306.00" stroke="#333" stroke-width="0.85"/>
<line x1="121.80" y1="317.10" x2="121.80" y2="325.20" stroke="#333" stroke-width="0.85"/>
<line x1="120.30" y1="300.30" x2="123.30" y2="300.30" stroke="#2a2a2a" stroke-width="1.1"/>
<line x1="120.30" y1="325.20" x2="123.30" y2="325.20" stroke="#2a2a2a" stroke-width="1.1"/>
<rect x="119.45" y="306.00" width="4.70" height="11.10" fill="#9a91c8" stroke="#222" stroke-width="0.5" stroke-opacity="0.55"/>
<line x1="119.45" y1="309.40" x2="124.15" y2="309.40" stroke="#1a1a1a" stroke-width="0.9"/>
<circle cx="121.80" cy="288.20" r="0.75" fill="#3a3a3a"/>
<circle cx="121.80" cy="291.50" r="0.75" fill="#3a3a3a"/>
<circle cx="121.80" cy="295.60" r="0.75" fill="#3a3a3a"/>
<circle cx="121.80" cy="326.50" r="0.75" fill="#3a3a3a"/>
<circle cx="121.80" cy="330.60" r="0.75" fill="#3a3a3a"/>
<circle cx="121.80" cy="339.30" r="0.75" fill="#3a3a3a"/>
<line x1="130.20" y1="292.60" x2="130.20" y2="299.90" stroke="#333" stroke-width="0.85"/>
<line x1="130.20" y1="314.40" x2="130.20" y2="321.50" stroke="#333" stroke-width="0.85"/>
<line x1="128.70" y1="292.60" x2="131.70" y2="292.60" stroke="#2a2a2a" stroke-width="1.1"/>
<line x1="128.70" y1="321.50" x2="131.70" y2="321.50" stroke="#2a2a2a" stroke-width="1.1"/>
<rect x="127.85" y="299.90" width="4.70" height="14.50" fill="#cc0e36" stroke="#222" stroke-width="0.5" stroke-opacity="0.55"/>
<line x1="127.85" y1="307.30" x2="132.55" y2="307.30" stroke="#1a1a1a" stroke-width="0.9"/>
<circle cx="130.20" cy="282.80" r="0.75" fill="#3a3a3a"/>
<circle cx="130.20" cy="286.20" r="0.75" fill="#3a3a3a"/>
<circle cx="130.20" cy="289.50" r="0.75" fill="#3a3a3a"/>
<circle cx="130.20" cy="323.50" r="0.75" fill="#3a3a3a"/>
<line x1="138.30" y1="291.50" x2="138.30" y2="298.30" stroke="#333" stroke-width="0.85"/>
<line x1="138.30" y1="325.20" x2="138.30" y2="329.90" stroke="#333" stroke-width="0.85"/>
<line x1="136.80" y1="291.50" x2="139.80" y2="291.50" stroke="#2a2a2a" stroke-width="1.1"/>
<line x1="136.80" y1="329.90" x2="139.80" y2="329.90" stroke="#2a2a2a" stroke-width="1.1"/>
<rect x="135.95" y="298.30" width="4.70" height="26.90" fill="#3fa9e3" stroke="#222" stroke-width="0.5" stroke-opacity="0.55"/>
<line x1="135.95" y1="316.20" x2="140.65" y2="316.20" stroke="#1a1a1a" stroke-width="0.9"/>
<line x1="146.30" y1="288.20" x2="146.30" y2="293.60" stroke="#333" stroke-width="0.85"/>
<line x1="146.30" y1="315.10" x2="146.30" y2="315.10" stroke="#333" stroke-width="0.85"/>
<line x1="144.80" y1="288.20" x2="147.80" y2="288.20" stroke="#2a2a2a" stroke-width="1.1"/>
<line x1="144.80" y1="315.10" x2="147.80" y2="315.10" stroke="#2a2a2a" stroke-width="1.1"/>
<rect x="143.95" y="293.60" width="4.70" height="21.50" fill="#006b50" stroke="#222" stroke-width="0.5" stroke-opacity="0.55"/>
<line x1="143.95" y1="310.00" x2="148.65" y2="310.00" stroke="#1a1a1a" stroke-width="0.9"/>
<line x1="154.60" y1="309.70" x2="154.60" y2="314.40" stroke="#333" stroke-width="0.85"/>
<line x1="154.60" y1="321.80" x2="154.60" y2="328.50" stroke="#333" stroke-width="0.85"/>
<line x1="153.10" y1="309.70" x2="156.10" y2="309.70" stroke="#2a2a2a" stroke-width="1.1"/>
<line x1="153.10" y1="328.50" x2="156.10" y2="328.50" stroke="#2a2a2a" stroke-width="1.1"/>
<rect x="152.25" y="314.40" width="4.70" height="7.40" fill="#3db343" stroke="#222" stroke-width="0.5" stroke-opacity="0.55"/>
<line x1="152.25" y1="318.00" x2="156.95" y2="318.00" stroke="#1a1a1a" stroke-width="0.9"/>
<circle cx="154.60" cy="293.60" r="0.75" fill="#3a3a3a"/>
<circle cx="154.60" cy="298.30" r="0.75" fill="#3a3a3a"/>
<circle cx="154.60" cy="303.00" r="0.75" fill="#3a3a3a"/>
<circle cx="154.60" cy="307.00" r="0.75" fill="#3a3a3a"/>
<circle cx="154.60" cy="332.00" r="0.75" fill="#3a3a3a"/>
<circle cx="154.60" cy="336.00" r="0.75" fill="#3a3a3a"/>
<line x1="162.70" y1="315.80" x2="162.70" y2="319.50" stroke="#333" stroke-width="0.85"/>
<line x1="162.70" y1="323.60" x2="162.70" y2="331.20" stroke="#333" stroke-width="0.85"/>
<line x1="161.20" y1="315.80" x2="164.20" y2="315.80" stroke="#2a2a2a" stroke-width="1.1"/>
<line x1="161.20" y1="331.20" x2="164.20" y2="331.20" stroke="#2a2a2a" stroke-width="1.1"/>
<rect x="160.35" y="319.50" width="4.70" height="4.10" fill="#1e4c93" stroke="#222" stroke-width="0.5" stroke-opacity="0.55"/>
<line x1="160.35" y1="321.50" x2="165.05" y2="321.50" stroke="#1a1a1a" stroke-width="0.9"/>
<circle cx="162.70" cy="306.30" r="0.75" fill="#3a3a3a"/>
<circle cx="162.70" cy="310.40" r="0.75" fill="#3a3a3a"/>
<circle cx="162.70" cy="339.30" r="0.75" fill="#3a3a3a"/>
<line x1="174.00" y1="323.00" x2="178.70" y2="323.00" stroke="#444" stroke-width="1.1"/>
<line x1="184.50" y1="309.80" x2="184.50" y2="315.80" stroke="#333" stroke-width="0.85"/>
<line x1="184.50" y1="321.70" x2="184.50" y2="331.50" stroke="#333" stroke-width="0.85"/>
<line x1="183.00" y1="309.80" x2="186.00" y2="309.80" stroke="#2a2a2a" stroke-width="1.1"/>
<line x1="183.00" y1="331.50" x2="186.00" y2="331.50" stroke="#2a2a2a" stroke-width="1.1"/>
<rect x="182.15" y="315.80" width="4.70" height="5.90" fill="#9a91c8" stroke="#222" stroke-width="0.5" stroke-opacity="0.55"/>
<line x1="182.15" y1="318.80" x2="186.85" y2="318.80" stroke="#1a1a1a" stroke-width="0.9"/>
<circle cx="184.50" cy="304.30" r="0.75" fill="#3a3a3a"/>
<circle cx="184.50" cy="338.80" r="0.75" fill="#3a3a3a"/>
<line x1="192.60" y1="303.10" x2="192.60" y2="307.00" stroke="#333" stroke-width="0.85"/>
<line x1="192.60" y1="317.20" x2="192.60" y2="322.10" stroke="#333" stroke-width="0.85"/>
<line x1="191.10" y1="303.10" x2="194.10" y2="303.10" stroke="#2a2a2a" stroke-width="1.1"/>
<line x1="191.10" y1="322.10" x2="194.10" y2="322.10" stroke="#2a2a2a" stroke-width="1.1"/>
<rect x="190.25" y="307.00" width="4.70" height="10.20" fill="#cc0e36" stroke="#222" stroke-width="0.5" stroke-opacity="0.55"/>
<line x1="190.25" y1="313.00" x2="194.95" y2="313.00" stroke="#1a1a1a" stroke-width="0.9"/>
<circle cx="192.60" cy="265.00" r="0.75" fill="#3a3a3a"/>
<circle cx="192.60" cy="328.40" r="0.75" fill="#3a3a3a"/>
<circle cx="192.60" cy="340.20" r="0.75" fill="#3a3a3a"/>
<line x1="198.70" y1="324.50" x2="203.00" y2="324.50" stroke="#444" stroke-width="1.1"/>
<line x1="206.60" y1="321.20" x2="211.30" y2="321.20" stroke="#444" stroke-width="1.1"/>
<line x1="217.20" y1="284.40" x2="217.20" y2="307.00" stroke="#333" stroke-width="0.85"/>
<line x1="217.20" y1="329.00" x2="217.20" y2="345.30" stroke="#333" stroke-width="0.85"/>
<line x1="215.70" y1="284.40" x2="218.70" y2="284.40" stroke="#2a2a2a" stroke-width="1.1"/>
<line x1="215.70" y1="345.30" x2="218.70" y2="345.30" stroke="#2a2a2a" stroke-width="1.1"/>
<rect x="214.85" y="307.00" width="4.70" height="22.00" fill="#3db343" stroke="#222" stroke-width="0.5" stroke-opacity="0.55"/>
<line x1="214.85" y1="317.20" x2="219.55" y2="317.20" stroke="#1a1a1a" stroke-width="0.9"/>
<circle cx="217.20" cy="262.30" r="0.75" fill="#3a3a3a"/>
<circle cx="217.20" cy="359.80" r="0.75" fill="#3a3a3a"/>
<line x1="225.30" y1="306.30" x2="225.30" y2="315.40" stroke="#333" stroke-width="0.85"/>
<line x1="225.30" y1="364.00" x2="225.30" y2="364.00" stroke="#333" stroke-width="0.85"/>
<line x1="223.80" y1="306.30" x2="226.80" y2="306.30" stroke="#2a2a2a" stroke-width="1.1"/>
<line x1="223.80" y1="364.00" x2="226.80" y2="364.00" stroke="#2a2a2a" stroke-width="1.1"/>
<rect x="222.95" y="315.40" width="4.70" height="48.60" fill="#1e4c93" stroke="#222" stroke-width="0.5" stroke-opacity="0.55"/>
<rect x="51.30" y="382.40" width="5.80" height="5.80" fill="#5b2378" stroke="none" stroke-width="0.6"/>
<text x="60.20" y="387.60" font-size="6.6" fill="#333" textLength="41.30" lengthAdjust="spacingAndGlyphs">C1D1 Predose</text>
<rect x="51.30" y="392.50" width="5.80" height="5.80" fill="#9a91c8" stroke="none" stroke-width="0.6"/>
<text x="60.20" y="397.70" font-size="6.6" fill="#333" textLength="30.80" lengthAdjust="spacingAndGlyphs">C1D1 Post</text>
<rect x="108.60" y="382.40" width="5.80" height="5.80" fill="#cc0e36" stroke="none" stroke-width="0.6"/>
<text x="117.00" y="387.60" font-size="6.6" fill="#333" textLength="16.40" lengthAdjust="spacingAndGlyphs">C1D2</text>
<rect x="108.60" y="392.50" width="5.80" height="5.80" fill="#3fa9e3" stroke="none" stroke-width="0.6"/>
<text x="117.00" y="397.70" font-size="6.6" fill="#333" textLength="16.40" lengthAdjust="spacingAndGlyphs">C1D3</text>
<rect x="140.40" y="382.40" width="5.80" height="5.80" fill="#006b50" stroke="none" stroke-width="0.6"/>
<text x="149.00" y="387.60" font-size="6.6" fill="#333" textLength="16.20" lengthAdjust="spacingAndGlyphs">C1D8</text>
<rect x="140.40" y="392.50" width="5.80" height="5.80" fill="#3db343" stroke="none" stroke-width="0.6"/>
<text x="149.00" y="397.70" font-size="6.6" fill="#333" textLength="19.40" lengthAdjust="spacingAndGlyphs">C1D15</text>
<rect x="176.20" y="382.40" width="5.80" height="5.80" fill="#1e4c93" stroke="none" stroke-width="0.6"/>
<text x="184.80" y="387.60" font-size="6.6" fill="#333" textLength="41.00" lengthAdjust="spacingAndGlyphs">C2D1 Predose</text>
<text x="255.40" y="249.90" font-size="11" fill="#000" font-weight="bold">D</text>
<text x="348.70" y="247.10" font-size="8.8" fill="#3a3a3a" textLength="115.40" lengthAdjust="spacingAndGlyphs">Activated NK and CD8 T Cells</text>
<line x1="300.00" y1="257.00" x2="300.00" y2="365.00" stroke="#2b2b2b" stroke-width="1.0"/>
<line x1="297.00" y1="364.60" x2="300.00" y2="364.60" stroke="#2b2b2b" stroke-width="0.9"/>
<text x="293.60" y="366.70" font-size="6.3" fill="#333" text-anchor="end">0</text>
<line x1="297.00" y1="343.34" x2="300.00" y2="343.34" stroke="#2b2b2b" stroke-width="0.9"/>
<text x="293.60" y="345.44" font-size="6.3" fill="#333" text-anchor="end">20</text>
<line x1="297.00" y1="322.08" x2="300.00" y2="322.08" stroke="#2b2b2b" stroke-width="0.9"/>
<text x="293.60" y="324.18" font-size="6.3" fill="#333" text-anchor="end">40</text>
<line x1="297.00" y1="300.82" x2="300.00" y2="300.82" stroke="#2b2b2b" stroke-width="0.9"/>
<text x="293.60" y="302.92" font-size="6.3" fill="#333" text-anchor="end">60</text>
<line x1="297.00" y1="279.56" x2="300.00" y2="279.56" stroke="#2b2b2b" stroke-width="0.9"/>
<text x="293.60" y="281.66" font-size="6.3" fill="#333" text-anchor="end">80</text>
<line x1="297.00" y1="258.30" x2="300.00" y2="258.30" stroke="#2b2b2b" stroke-width="0.9"/>
<text x="293.60" y="260.40" font-size="6.3" fill="#333" text-anchor="end">100</text>
<line x1="297.00" y1="364.60" x2="513.00" y2="364.60" stroke="#2b2b2b" stroke-width="1.0"/>
<line x1="351.40" y1="364.60" x2="351.40" y2="367.20" stroke="#2b2b2b" stroke-width="0.9"/>
<line x1="459.60" y1="364.60" x2="459.60" y2="367.20" stroke="#2b2b2b" stroke-width="0.9"/>
<text x="351.40" y="376.70" font-size="6.8" fill="#333" text-anchor="middle" textLength="24.50" lengthAdjust="spacingAndGlyphs">NK Cells</text>
<text x="459.20" y="376.70" font-size="6.8" fill="#333" text-anchor="middle" textLength="33.20" lengthAdjust="spacingAndGlyphs">CD8 T Cells</text>
<text x="277.10" y="310.20" font-size="7.4" fill="#333" text-anchor="middle" textLength="80.50" lengthAdjust="spacingAndGlyphs" transform="rotate(-90 277.10 310.20)">Percent activated (CD69+)</text>
<text x="327.50" y="257.80" font-size="6.5" fill="#3a3a3a" text-anchor="middle" textLength="22.50" lengthAdjust="spacingAndGlyphs">DR: n.s.</text>
<text x="327.50" y="265.20" font-size="6.5" fill="#3a3a3a" text-anchor="middle" textLength="37.50" lengthAdjust="spacingAndGlyphs">ΔBL: 4.18e-07</text>
<line x1="316.30" y1="269.20" x2="338.50" y2="269.20" stroke="#5a5a5a" stroke-width="1.3"/>
<text x="375.60" y="296.00" font-size="6.5" fill="#3a3a3a" text-anchor="middle" textLength="22.10" lengthAdjust="spacingAndGlyphs">DR: n.s.</text>
<text x="375.60" y="303.30" font-size="6.5" fill="#3a3a3a" text-anchor="middle" textLength="24.00" lengthAdjust="spacingAndGlyphs">ΔBL: n.s.</text>
<line x1="364.00" y1="306.90" x2="387.00" y2="306.90" stroke="#5a5a5a" stroke-width="1.3"/>
<text x="434.40" y="278.90" font-size="6.5" fill="#3a3a3a" text-anchor="middle" textLength="22.20" lengthAdjust="spacingAndGlyphs">DR: n.s.</text>
<text x="434.40" y="286.30" font-size="6.5" fill="#3a3a3a" text-anchor="middle" textLength="36.00" lengthAdjust="spacingAndGlyphs">ΔBL: 2.15e-6</text>
<line x1="423.60" y1="289.70" x2="445.60" y2="289.70" stroke="#5a5a5a" stroke-width="1.3"/>
<text x="483.30" y="315.90" font-size="6.5" fill="#3a3a3a" text-anchor="middle" textLength="21.60" lengthAdjust="spacingAndGlyphs">DR: n.s.</text>
<text x="483.30" y="322.90" font-size="6.5" fill="#3a3a3a" text-anchor="middle" textLength="24.50" lengthAdjust="spacingAndGlyphs">ΔBL: n.s.</text>
<line x1="472.30" y1="327.30" x2="494.30" y2="327.30" stroke="#5a5a5a" stroke-width="1.3"/>
<line x1="311.10" y1="329.00" x2="311.10" y2="340.60" stroke="#333" stroke-width="0.85"/>
<line x1="311.10" y1="358.80" x2="311.10" y2="362.70" stroke="#333" stroke-width="0.85"/>
<line x1="308.60" y1="329.00" x2="313.60" y2="329.00" stroke="#2a2a2a" stroke-width="1.1"/>
<line x1="308.60" y1="362.70" x2="313.60" y2="362.70" stroke="#2a2a2a" stroke-width="1.1"/>
<rect x="306.10" y="340.60" width="10.00" height="18.20" fill="#5b2378" stroke="#222" stroke-width="0.5" stroke-opacity="0.55"/>
<line x1="306.10" y1="350.80" x2="316.10" y2="350.80" stroke="#1a1a1a" stroke-width="0.9"/>
<circle cx="311.10" cy="325.60" r="0.75" fill="#3a3a3a"/>
<circle cx="311.10" cy="310.80" r="0.75" fill="#3a3a3a"/>
<circle cx="311.10" cy="308.80" r="0.75" fill="#3a3a3a"/>
<circle cx="311.10" cy="292.50" r="0.75" fill="#3a3a3a"/>
<circle cx="311.10" cy="283.80" r="0.75" fill="#3a3a3a"/>
<circle cx="311.10" cy="361.80" r="0.75" fill="#3a3a3a"/>
<circle cx="311.10" cy="362.80" r="0.75" fill="#3a3a3a"/>
<line x1="327.10" y1="290.60" x2="327.10" y2="306.00" stroke="#333" stroke-width="0.85"/>
<line x1="327.10" y1="338.70" x2="327.10" y2="350.60" stroke="#333" stroke-width="0.85"/>
<line x1="324.60" y1="290.60" x2="329.60" y2="290.60" stroke="#2a2a2a" stroke-width="1.1"/>
<line x1="324.60" y1="350.60" x2="329.60" y2="350.60" stroke="#2a2a2a" stroke-width="1.1"/>
<rect x="322.10" y="306.00" width="10.00" height="32.70" fill="#cc0e36" stroke="#222" stroke-width="0.5" stroke-opacity="0.55"/>
<line x1="322.10" y1="322.70" x2="332.10" y2="322.70" stroke="#1a1a1a" stroke-width="0.9"/>
<circle cx="327.10" cy="275.20" r="0.75" fill="#3a3a3a"/>
<circle cx="327.10" cy="283.50" r="0.75" fill="#3a3a3a"/>
<circle cx="327.10" cy="289.60" r="0.75" fill="#3a3a3a"/>
<circle cx="327.10" cy="355.00" r="0.75" fill="#3a3a3a"/>
<circle cx="327.10" cy="358.30" r="0.75" fill="#3a3a3a"/>
<circle cx="327.10" cy="361.70" r="0.75" fill="#3a3a3a"/>
<line x1="343.60" y1="312.30" x2="343.60" y2="320.00" stroke="#333" stroke-width="0.85"/>
<line x1="343.60" y1="344.40" x2="343.60" y2="347.30" stroke="#333" stroke-width="0.85"/>
<line x1="341.10" y1="312.30" x2="346.10" y2="312.30" stroke="#2a2a2a" stroke-width="1.1"/>
<line x1="341.10" y1="347.30" x2="346.10" y2="347.30" stroke="#2a2a2a" stroke-width="1.1"/>
<rect x="338.60" y="320.00" width="10.00" height="24.40" fill="#3fa9e3" stroke="#222" stroke-width="0.5" stroke-opacity="0.55"/>
<line x1="338.60" y1="339.20" x2="348.60" y2="339.20" stroke="#1a1a1a" stroke-width="0.9"/>
<line x1="359.80" y1="331.90" x2="359.80" y2="341.20" stroke="#333" stroke-width="0.85"/>
<line x1="359.80" y1="353.70" x2="359.80" y2="364.40" stroke="#333" stroke-width="0.85"/>
<line x1="357.30" y1="331.90" x2="362.30" y2="331.90" stroke="#2a2a2a" stroke-width="1.1"/>
<line x1="357.30" y1="364.40" x2="362.30" y2="364.40" stroke="#2a2a2a" stroke-width="1.1"/>
<rect x="354.80" y="341.20" width="10.00" height="12.50" fill="#006b50" stroke="#222" stroke-width="0.5" stroke-opacity="0.55"/>
<line x1="354.80" y1="343.00" x2="364.80" y2="343.00" stroke="#1a1a1a" stroke-width="0.9"/>
<line x1="376.00" y1="326.50" x2="376.00" y2="338.70" stroke="#333" stroke-width="0.85"/>
<line x1="376.00" y1="352.50" x2="376.00" y2="358.30" stroke="#333" stroke-width="0.85"/>
<line x1="373.50" y1="326.50" x2="378.50" y2="326.50" stroke="#2a2a2a" stroke-width="1.1"/>
<line x1="373.50" y1="358.30" x2="378.50" y2="358.30" stroke="#2a2a2a" stroke-width="1.1"/>
<rect x="371.00" y="338.70" width="10.00" height="13.80" fill="#3db343" stroke="#222" stroke-width="0.5" stroke-opacity="0.55"/>
<line x1="371.00" y1="348.30" x2="381.00" y2="348.30" stroke="#1a1a1a" stroke-width="0.9"/>
<circle cx="376.00" cy="309.80" r="0.75" fill="#3a3a3a"/>
<circle cx="376.00" cy="317.50" r="0.75" fill="#3a3a3a"/>
<circle cx="376.00" cy="320.40" r="0.75" fill="#3a3a3a"/>
<circle cx="376.00" cy="323.30" r="0.75" fill="#3a3a3a"/>
<circle cx="376.00" cy="361.50" r="0.75" fill="#3a3a3a"/>
<line x1="392.30" y1="329.00" x2="392.30" y2="338.70" stroke="#333" stroke-width="0.85"/>
<line x1="392.30" y1="358.80" x2="392.30" y2="362.30" stroke="#333" stroke-width="0.85"/>
<line x1="389.80" y1="329.00" x2="394.80" y2="329.00" stroke="#2a2a2a" stroke-width="1.1"/>
<line x1="389.80" y1="362.30" x2="394.80" y2="362.30" stroke="#2a2a2a" stroke-width="1.1"/>
<rect x="387.30" y="338.70" width="10.00" height="20.10" fill="#1e4c93" stroke="#222" stroke-width="0.5" stroke-opacity="0.55"/>
<circle cx="392.30" cy="312.30" r="0.75" fill="#3a3a3a"/>
<line x1="419.50" y1="348.10" x2="419.50" y2="356.10" stroke="#333" stroke-width="0.85"/>
<line x1="419.50" y1="361.80" x2="419.50" y2="363.50" stroke="#333" stroke-width="0.85"/>
<line x1="417.00" y1="348.10" x2="422.00" y2="348.10" stroke="#2a2a2a" stroke-width="1.1"/>
<line x1="417.00" y1="363.50" x2="422.00" y2="363.50" stroke="#2a2a2a" stroke-width="1.1"/>
<rect x="414.50" y="356.10" width="10.00" height="5.70" fill="#5b2378" stroke="#222" stroke-width="0.5" stroke-opacity="0.55"/>
<line x1="414.50" y1="359.00" x2="424.50" y2="359.00" stroke="#1a1a1a" stroke-width="0.9"/>
<circle cx="419.50" cy="310.40" r="0.75" fill="#3a3a3a"/>
<circle cx="419.50" cy="335.40" r="0.75" fill="#3a3a3a"/>
<circle cx="419.50" cy="338.00" r="0.75" fill="#3a3a3a"/>
<circle cx="419.50" cy="340.70" r="0.75" fill="#3a3a3a"/>
<line x1="435.50" y1="318.50" x2="435.50" y2="326.30" stroke="#333" stroke-width="0.85"/>
<line x1="435.50" y1="353.40" x2="435.50" y2="359.10" stroke="#333" stroke-width="0.85"/>
<line x1="433.00" y1="318.50" x2="438.00" y2="318.50" stroke="#2a2a2a" stroke-width="1.1"/>
<line x1="433.00" y1="359.10" x2="438.00" y2="359.10" stroke="#2a2a2a" stroke-width="1.1"/>
<rect x="430.50" y="326.30" width="10.00" height="27.10" fill="#cc0e36" stroke="#222" stroke-width="0.5" stroke-opacity="0.55"/>
<line x1="430.50" y1="341.10" x2="440.50" y2="341.10" stroke="#1a1a1a" stroke-width="0.9"/>
<circle cx="435.50" cy="294.00" r="0.75" fill="#3a3a3a"/>
<circle cx="435.50" cy="297.20" r="0.75" fill="#3a3a3a"/>
<circle cx="435.50" cy="300.40" r="0.75" fill="#3a3a3a"/>
<circle cx="435.50" cy="303.60" r="0.75" fill="#3a3a3a"/>
<circle cx="435.50" cy="306.80" r="0.75" fill="#3a3a3a"/>
<circle cx="435.50" cy="315.30" r="0.75" fill="#3a3a3a"/>
<line x1="451.80" y1="327.30" x2="451.80" y2="351.30" stroke="#333" stroke-width="0.85"/>
<line x1="451.80" y1="361.80" x2="451.80" y2="362.50" stroke="#333" stroke-width="0.85"/>
<line x1="449.30" y1="327.30" x2="454.30" y2="327.30" stroke="#2a2a2a" stroke-width="1.1"/>
<line x1="449.30" y1="362.50" x2="454.30" y2="362.50" stroke="#2a2a2a" stroke-width="1.1"/>
<rect x="446.80" y="351.30" width="10.00" height="10.50" fill="#3fa9e3" stroke="#222" stroke-width="0.5" stroke-opacity="0.55"/>
<line x1="446.80" y1="352.70" x2="456.80" y2="352.70" stroke="#1a1a1a" stroke-width="0.9"/>
<line x1="467.90" y1="349.80" x2="467.90" y2="361.40" stroke="#333" stroke-width="0.7"/>
<line x1="465.40" y1="349.80" x2="470.40" y2="349.80" stroke="#333" stroke-width="0.8"/>
<line x1="463.20" y1="361.40" x2="472.70" y2="361.40" stroke="#1a1a1a" stroke-width="1.1"/>
<line x1="484.10" y1="351.30" x2="484.10" y2="355.00" stroke="#333" stroke-width="0.85"/>
<line x1="484.10" y1="361.80" x2="484.10" y2="363.30" stroke="#333" stroke-width="0.85"/>
<line x1="481.60" y1="351.30" x2="486.60" y2="351.30" stroke="#2a2a2a" stroke-width="1.1"/>
<line x1="481.60" y1="363.30" x2="486.60" y2="363.30" stroke="#2a2a2a" stroke-width="1.1"/>
<rect x="479.10" y="355.00" width="10.00" height="6.80" fill="#3db343" stroke="#222" stroke-width="0.5" stroke-opacity="0.55"/>
<line x1="479.10" y1="358.70" x2="489.10" y2="358.70" stroke="#1a1a1a" stroke-width="0.9"/>
<circle cx="484.10" cy="332.00" r="0.75" fill="#3a3a3a"/>
<circle cx="484.10" cy="335.50" r="0.75" fill="#3a3a3a"/>
<circle cx="484.10" cy="339.00" r="0.75" fill="#3a3a3a"/>
<circle cx="484.10" cy="342.50" r="0.75" fill="#3a3a3a"/>
<circle cx="484.10" cy="346.00" r="0.75" fill="#3a3a3a"/>
<line x1="500.20" y1="348.10" x2="500.20" y2="357.20" stroke="#333" stroke-width="0.85"/>
<line x1="500.20" y1="362.90" x2="500.20" y2="363.80" stroke="#333" stroke-width="0.85"/>
<line x1="497.70" y1="348.10" x2="502.70" y2="348.10" stroke="#2a2a2a" stroke-width="1.1"/>
<line x1="497.70" y1="363.80" x2="502.70" y2="363.80" stroke="#2a2a2a" stroke-width="1.1"/>
<rect x="495.45" y="357.20" width="9.50" height="5.70" fill="#1e4c93" stroke="#222" stroke-width="0.5" stroke-opacity="0.55"/>
<line x1="495.45" y1="360.50" x2="504.95" y2="360.50" stroke="#1a1a1a" stroke-width="0.9"/>
<circle cx="500.20" cy="335.00" r="0.75" fill="#3a3a3a"/>
<circle cx="500.20" cy="345.50" r="0.75" fill="#3a3a3a"/>
<rect x="336.30" y="383.00" width="5.80" height="5.80" fill="#5b2378" stroke="none" stroke-width="0.6"/>
<text x="345.90" y="388.20" font-size="6.6" fill="#333" textLength="41.30" lengthAdjust="spacingAndGlyphs">C1D1 Predose</text>
<rect x="336.30" y="393.10" width="5.80" height="5.80" fill="#cc0e36" stroke="none" stroke-width="0.6"/>
<text x="345.90" y="398.30" font-size="6.6" fill="#333" textLength="16.40" lengthAdjust="spacingAndGlyphs">C1D2</text>
<rect x="393.50" y="383.00" width="5.80" height="5.80" fill="#3fa9e3" stroke="none" stroke-width="0.6"/>
<text x="403.50" y="388.20" font-size="6.6" fill="#333" textLength="16.40" lengthAdjust="spacingAndGlyphs">C1D3</text>
<rect x="393.50" y="393.10" width="5.80" height="5.80" fill="#006b50" stroke="none" stroke-width="0.6"/>
<text x="403.50" y="398.30" font-size="6.6" fill="#333" textLength="16.20" lengthAdjust="spacingAndGlyphs">C1D8</text>
<rect x="425.50" y="383.00" width="5.80" height="5.80" fill="#3db343" stroke="none" stroke-width="0.6"/>
<text x="434.40" y="388.20" font-size="6.6" fill="#333" textLength="19.40" lengthAdjust="spacingAndGlyphs">C1D15</text>
<rect x="425.50" y="393.10" width="5.80" height="5.80" fill="#1e4c93" stroke="none" stroke-width="0.6"/>
<text x="434.40" y="398.30" font-size="6.6" fill="#333" textLength="41.00" lengthAdjust="spacingAndGlyphs">C2D1 Predose</text>
<text x="136.60" y="423.90" font-size="11" fill="#000" font-weight="bold">E</text>
<text x="249.20" y="422.30" font-size="8.8" fill="#3a3a3a" textLength="53.50" lengthAdjust="spacingAndGlyphs">Serum MCP-2</text>
<line x1="183.20" y1="454.00" x2="183.20" y2="573.60" stroke="#2b2b2b" stroke-width="1.0"/>
<line x1="180.20" y1="573.20" x2="183.20" y2="573.20" stroke="#2b2b2b" stroke-width="0.9"/>
<text x="177.60" y="575.30" font-size="6.3" fill="#333" text-anchor="end">10</text>
<line x1="180.20" y1="534.00" x2="183.20" y2="534.00" stroke="#2b2b2b" stroke-width="0.9"/>
<text x="177.60" y="536.10" font-size="6.3" fill="#333" text-anchor="end">100</text>
<line x1="180.20" y1="494.80" x2="183.20" y2="494.80" stroke="#2b2b2b" stroke-width="0.9"/>
<text x="177.60" y="496.90" font-size="6.3" fill="#333" text-anchor="end">1000</text>
<line x1="180.20" y1="455.60" x2="183.20" y2="455.60" stroke="#2b2b2b" stroke-width="0.9"/>
<text x="177.60" y="457.70" font-size="6.3" fill="#333" text-anchor="end">10000</text>
<line x1="181.60" y1="561.40" x2="183.20" y2="561.40" stroke="#2b2b2b" stroke-width="0.6"/>
<line x1="181.60" y1="554.50" x2="183.20" y2="554.50" stroke="#2b2b2b" stroke-width="0.6"/>
<line x1="181.60" y1="549.60" x2="183.20" y2="549.60" stroke="#2b2b2b" stroke-width="0.6"/>
<line x1="181.60" y1="545.80" x2="183.20" y2="545.80" stroke="#2b2b2b" stroke-width="0.6"/>
<line x1="181.60" y1="542.70" x2="183.20" y2="542.70" stroke="#2b2b2b" stroke-width="0.6"/>
<line x1="181.60" y1="540.07" x2="183.20" y2="540.07" stroke="#2b2b2b" stroke-width="0.6"/>
<line x1="181.60" y1="537.80" x2="183.20" y2="537.80" stroke="#2b2b2b" stroke-width="0.6"/>
<line x1="181.60" y1="535.79" x2="183.20" y2="535.79" stroke="#2b2b2b" stroke-width="0.6"/>
<line x1="181.60" y1="522.20" x2="183.20" y2="522.20" stroke="#2b2b2b" stroke-width="0.6"/>
<line x1="181.60" y1="515.30" x2="183.20" y2="515.30" stroke="#2b2b2b" stroke-width="0.6"/>
<line x1="181.60" y1="510.40" x2="183.20" y2="510.40" stroke="#2b2b2b" stroke-width="0.6"/>
<line x1="181.60" y1="506.60" x2="183.20" y2="506.60" stroke="#2b2b2b" stroke-width="0.6"/>
<line x1="181.60" y1="503.50" x2="183.20" y2="503.50" stroke="#2b2b2b" stroke-width="0.6"/>
<line x1="181.60" y1="500.87" x2="183.20" y2="500.87" stroke="#2b2b2b" stroke-width="0.6"/>
<line x1="181.60" y1="498.60" x2="183.20" y2="498.60" stroke="#2b2b2b" stroke-width="0.6"/>
<line x1="181.60" y1="496.59" x2="183.20" y2="496.59" stroke="#2b2b2b" stroke-width="0.6"/>
<line x1="181.60" y1="483.00" x2="183.20" y2="483.00" stroke="#2b2b2b" stroke-width="0.6"/>
<line x1="181.60" y1="476.10" x2="183.20" y2="476.10" stroke="#2b2b2b" stroke-width="0.6"/>
<line x1="181.60" y1="471.20" x2="183.20" y2="471.20" stroke="#2b2b2b" stroke-width="0.6"/>
<line x1="181.60" y1="467.40" x2="183.20" y2="467.40" stroke="#2b2b2b" stroke-width="0.6"/>
<line x1="181.60" y1="464.30" x2="183.20" y2="464.30" stroke="#2b2b2b" stroke-width="0.6"/>
<line x1="181.60" y1="461.67" x2="183.20" y2="461.67" stroke="#2b2b2b" stroke-width="0.6"/>
<line x1="181.60" y1="459.40" x2="183.20" y2="459.40" stroke="#2b2b2b" stroke-width="0.6"/>
<line x1="181.60" y1="457.39" x2="183.20" y2="457.39" stroke="#2b2b2b" stroke-width="0.6"/>
<line x1="180.20" y1="573.20" x2="368.30" y2="573.20" stroke="#2b2b2b" stroke-width="1.0"/>
<line x1="195.20" y1="573.20" x2="195.20" y2="575.80" stroke="#2b2b2b" stroke-width="0.9"/>
<line x1="212.92" y1="573.20" x2="212.92" y2="575.80" stroke="#2b2b2b" stroke-width="0.9"/>
<line x1="230.64" y1="573.20" x2="230.64" y2="575.80" stroke="#2b2b2b" stroke-width="0.9"/>
<line x1="248.36" y1="573.20" x2="248.36" y2="575.80" stroke="#2b2b2b" stroke-width="0.9"/>
<line x1="266.08" y1="573.20" x2="266.08" y2="575.80" stroke="#2b2b2b" stroke-width="0.9"/>
<line x1="283.80" y1="573.20" x2="283.80" y2="575.80" stroke="#2b2b2b" stroke-width="0.9"/>
<line x1="301.52" y1="573.20" x2="301.52" y2="575.80" stroke="#2b2b2b" stroke-width="0.9"/>
<line x1="319.24" y1="573.20" x2="319.24" y2="575.80" stroke="#2b2b2b" stroke-width="0.9"/>
<line x1="336.96" y1="573.20" x2="336.96" y2="575.80" stroke="#2b2b2b" stroke-width="0.9"/>
<line x1="354.68" y1="573.20" x2="354.68" y2="575.80" stroke="#2b2b2b" stroke-width="0.9"/>
<text x="195.60" y="584.40" font-size="6.2" fill="#333" text-anchor="end" transform="rotate(-45 195.60 584.40)">C1D1</text>
<text x="201.00" y="590.00" font-size="6.2" fill="#333" text-anchor="end" transform="rotate(-45 201.00 590.00)">Predose</text>
<text x="217.32" y="584.00" font-size="6.2" fill="#333" text-anchor="end" transform="rotate(-45 217.32 584.00)">C1D1 Post</text>
<text x="235.04" y="584.00" font-size="6.2" fill="#333" text-anchor="end" transform="rotate(-45 235.04 584.00)">C1D2</text>
<text x="252.76" y="584.00" font-size="6.2" fill="#333" text-anchor="end" transform="rotate(-45 252.76 584.00)">C1D3</text>
<text x="288.20" y="584.00" font-size="6.2" fill="#333" text-anchor="end" transform="rotate(-45 288.20 584.00)">C1D8</text>
<text x="323.64" y="584.00" font-size="6.2" fill="#333" text-anchor="end" transform="rotate(-45 323.64 584.00)">C1D15</text>
<text x="355.08" y="584.40" font-size="6.2" fill="#333" text-anchor="end" transform="rotate(-45 355.08 584.40)">C2D1</text>
<text x="360.48" y="590.00" font-size="6.2" fill="#333" text-anchor="end" transform="rotate(-45 360.48 590.00)">Predose</text>
<text x="154.80" y="512.60" font-size="7.7" fill="#333" text-anchor="middle" textLength="68.00" lengthAdjust="spacingAndGlyphs" transform="rotate(-90 154.80 512.60)">Concentration (pg/mL)</text>
<text x="213.20" y="432.40" font-size="6.6" fill="#3a3a3a" text-anchor="middle" textLength="28.50" lengthAdjust="spacingAndGlyphs">DR: 9e-04</text>
<text x="213.20" y="440.10" font-size="6.6" fill="#3a3a3a" text-anchor="middle" textLength="40.60" lengthAdjust="spacingAndGlyphs">ΔBL: 8.36e-12</text>
<line x1="203.90" y1="443.60" x2="222.80" y2="443.60" stroke="#5a5a5a" stroke-width="1.3"/>
<text x="231.60" y="452.90" font-size="6.6" fill="#3a3a3a" text-anchor="middle" textLength="28.30" lengthAdjust="spacingAndGlyphs">DR: 0.002</text>
<text x="231.60" y="460.40" font-size="6.6" fill="#3a3a3a" text-anchor="middle" textLength="40.10" lengthAdjust="spacingAndGlyphs">ΔBL: 1.82e-13</text>
<line x1="221.90" y1="464.20" x2="239.80" y2="464.20" stroke="#5a5a5a" stroke-width="1.3"/>
<text x="321.70" y="468.60" font-size="6.6" fill="#3a3a3a" text-anchor="middle" textLength="28.30" lengthAdjust="spacingAndGlyphs">DR: 0.004</text>
<text x="321.70" y="476.30" font-size="6.6" fill="#3a3a3a" text-anchor="middle" textLength="39.20" lengthAdjust="spacingAndGlyphs">ΔBL: 1.31e-05</text>
<line x1="313.00" y1="479.80" x2="331.00" y2="479.80" stroke="#5a5a5a" stroke-width="1.3"/>
<line x1="212.92" y1="464.60" x2="212.92" y2="573.20" stroke="#ea7fa5" stroke-width="1.1"/>
<line x1="210.92" y1="464.60" x2="214.92" y2="464.60" stroke="#e0357e" stroke-width="0.8"/>
<line x1="195.20" y1="511.27" x2="195.20" y2="567.47" stroke="#d9882c" stroke-width="0.6" opacity="0.7"/>
<line x1="193.20" y1="511.27" x2="197.20" y2="511.27" stroke="#d9882c" stroke-width="0.6" opacity="0.7"/>
<line x1="193.20" y1="567.47" x2="197.20" y2="567.47" stroke="#d9882c" stroke-width="0.6" opacity="0.7"/>
<line x1="195.20" y1="518.40" x2="195.20" y2="542.70" stroke="#f2c12e" stroke-width="0.6" opacity="0.7"/>
<line x1="193.20" y1="518.40" x2="197.20" y2="518.40" stroke="#f2c12e" stroke-width="0.6" opacity="0.7"/>
<line x1="193.20" y1="542.70" x2="197.20" y2="542.70" stroke="#f2c12e" stroke-width="0.6" opacity="0.7"/>
<line x1="195.20" y1="534.00" x2="195.20" y2="561.40" stroke="#4aaee0" stroke-width="0.6" opacity="0.7"/>
<line x1="193.20" y1="534.00" x2="197.20" y2="534.00" stroke="#4aaee0" stroke-width="0.6" opacity="0.7"/>
<line x1="193.20" y1="561.40" x2="197.20" y2="561.40" stroke="#4aaee0" stroke-width="0.6" opacity="0.7"/>
<line x1="195.20" y1="537.80" x2="195.20" y2="568.73" stroke="#27508f" stroke-width="0.6" opacity="0.7"/>
<line x1="193.20" y1="537.80" x2="197.20" y2="537.80" stroke="#27508f" stroke-width="0.6" opacity="0.7"/>
<line x1="193.20" y1="568.73" x2="197.20" y2="568.73" stroke="#27508f" stroke-width="0.6" opacity="0.7"/>
<line x1="212.92" y1="494.80" x2="212.92" y2="515.30" stroke="#e0357e" stroke-width="0.6" opacity="0.7"/>
<line x1="210.92" y1="494.80" x2="214.92" y2="494.80" stroke="#e0357e" stroke-width="0.6" opacity="0.7"/>
<line x1="210.92" y1="515.30" x2="214.92" y2="515.30" stroke="#e0357e" stroke-width="0.6" opacity="0.7"/>
<line x1="212.92" y1="496.59" x2="212.92" y2="503.50" stroke="#c8102e" stroke-width="0.6" opacity="0.7"/>
<line x1="210.92" y1="496.59" x2="214.92" y2="496.59" stroke="#c8102e" stroke-width="0.6" opacity="0.7"/>
<line x1="210.92" y1="503.50" x2="214.92" y2="503.50" stroke="#c8102e" stroke-width="0.6" opacity="0.7"/>
<line x1="230.64" y1="498.60" x2="230.64" y2="534.00" stroke="#e0357e" stroke-width="0.6" opacity="0.7"/>
<line x1="228.64" y1="498.60" x2="232.64" y2="498.60" stroke="#e0357e" stroke-width="0.6" opacity="0.7"/>
<line x1="228.64" y1="534.00" x2="232.64" y2="534.00" stroke="#e0357e" stroke-width="0.6" opacity="0.7"/>
<line x1="230.64" y1="487.90" x2="230.64" y2="506.60" stroke="#27508f" stroke-width="0.6" opacity="0.7"/>
<line x1="228.64" y1="487.90" x2="232.64" y2="487.90" stroke="#27508f" stroke-width="0.6" opacity="0.7"/>
<line x1="228.64" y1="506.60" x2="232.64" y2="506.60" stroke="#27508f" stroke-width="0.6" opacity="0.7"/>
<line x1="230.64" y1="491.70" x2="230.64" y2="503.50" stroke="#9c93c9" stroke-width="0.6" opacity="0.7"/>
<line x1="228.64" y1="491.70" x2="232.64" y2="491.70" stroke="#9c93c9" stroke-width="0.6" opacity="0.7"/>
<line x1="228.64" y1="503.50" x2="232.64" y2="503.50" stroke="#9c93c9" stroke-width="0.6" opacity="0.7"/>
<line x1="248.36" y1="497.57" x2="248.36" y2="504.98" stroke="#4b1f5e" stroke-width="0.6" opacity="0.7"/>
<line x1="246.36" y1="497.57" x2="250.36" y2="497.57" stroke="#4b1f5e" stroke-width="0.6" opacity="0.7"/>
<line x1="246.36" y1="504.98" x2="250.36" y2="504.98" stroke="#4b1f5e" stroke-width="0.6" opacity="0.7"/>
<line x1="283.80" y1="502.13" x2="283.80" y2="526.00" stroke="#27508f" stroke-width="0.6" opacity="0.7"/>
<line x1="281.80" y1="502.13" x2="285.80" y2="502.13" stroke="#27508f" stroke-width="0.6" opacity="0.7"/>
<line x1="281.80" y1="526.00" x2="285.80" y2="526.00" stroke="#27508f" stroke-width="0.6" opacity="0.7"/>
<line x1="283.80" y1="506.60" x2="283.80" y2="522.20" stroke="#4aaee0" stroke-width="0.6" opacity="0.7"/>
<line x1="281.80" y1="506.60" x2="285.80" y2="506.60" stroke="#4aaee0" stroke-width="0.6" opacity="0.7"/>
<line x1="281.80" y1="522.20" x2="285.80" y2="522.20" stroke="#4aaee0" stroke-width="0.6" opacity="0.7"/>
<line x1="319.24" y1="513.67" x2="319.24" y2="567.47" stroke="#e0357e" stroke-width="0.6" opacity="0.7"/>
<line x1="317.24" y1="513.67" x2="321.24" y2="513.67" stroke="#e0357e" stroke-width="0.6" opacity="0.7"/>
<line x1="317.24" y1="567.47" x2="321.24" y2="567.47" stroke="#e0357e" stroke-width="0.6" opacity="0.7"/>
<line x1="319.24" y1="515.30" x2="319.24" y2="561.40" stroke="#4aaee0" stroke-width="0.6" opacity="0.7"/>
<line x1="317.24" y1="515.30" x2="321.24" y2="515.30" stroke="#4aaee0" stroke-width="0.6" opacity="0.7"/>
<line x1="317.24" y1="561.40" x2="321.24" y2="561.40" stroke="#4aaee0" stroke-width="0.6" opacity="0.7"/>
<line x1="319.24" y1="518.40" x2="319.24" y2="554.50" stroke="#27508f" stroke-width="0.6" opacity="0.7"/>
<line x1="317.24" y1="518.40" x2="321.24" y2="518.40" stroke="#27508f" stroke-width="0.6" opacity="0.7"/>
<line x1="317.24" y1="554.50" x2="321.24" y2="554.50" stroke="#27508f" stroke-width="0.6" opacity="0.7"/>
<line x1="354.68" y1="521.37" x2="354.68" y2="554.50" stroke="#9c93c9" stroke-width="0.6" opacity="0.7"/>
<line x1="352.68" y1="521.37" x2="356.68" y2="521.37" stroke="#9c93c9" stroke-width="0.6" opacity="0.7"/>
<line x1="352.68" y1="554.50" x2="356.68" y2="554.50" stroke="#9c93c9" stroke-width="0.6" opacity="0.7"/>
<line x1="354.68" y1="526.00" x2="354.68" y2="561.40" stroke="#27508f" stroke-width="0.6" opacity="0.7"/>
<line x1="352.68" y1="526.00" x2="356.68" y2="526.00" stroke="#27508f" stroke-width="0.6" opacity="0.7"/>
<line x1="352.68" y1="561.40" x2="356.68" y2="561.40" stroke="#27508f" stroke-width="0.6" opacity="0.7"/>
<line x1="354.68" y1="523.99" x2="354.68" y2="549.60" stroke="#00695c" stroke-width="0.6" opacity="0.7"/>
<line x1="352.68" y1="523.99" x2="356.68" y2="523.99" stroke="#00695c" stroke-width="0.6" opacity="0.7"/>
<line x1="352.68" y1="549.60" x2="356.68" y2="549.60" stroke="#00695c" stroke-width="0.6" opacity="0.7"/>
<polyline points="195.20,547.59 230.64,513.99" fill="none" stroke="#45a845" stroke-width="1.0" stroke-linejoin="round"/>
<polyline points="195.20,547.59 230.64,517.22" fill="none" stroke="#d9882c" stroke-width="1.0" stroke-linejoin="round"/>
<polyline points="195.20,547.59 212.92,487.34 230.64,514.74 283.80,528.27 319.24,541.07" fill="none" stroke="#e0357e" stroke-width="1.15" stroke-linejoin="round"/>
<polyline points="195.20,547.59 212.92,484.79 230.64,511.50 283.80,527.10 319.24,538.01" fill="none" stroke="#c8102e" stroke-width="1.15" stroke-linejoin="round"/>
<polyline points="195.20,547.59 212.92,483.00 230.64,500.87 283.80,515.30 319.24,524.97 354.68,532.85" fill="none" stroke="#00695c" stroke-width="1.15" stroke-linejoin="round"/>
<polyline points="195.20,549.60 212.92,481.38 230.64,502.13 283.80,516.47 319.24,531.77 354.68,539.59" fill="none" stroke="#4aaee0" stroke-width="1.15" stroke-linejoin="round"/>
<polyline points="195.20,547.59 212.92,480.62 230.64,498.60 283.80,513.67 319.24,524.47 354.68,532.38" fill="none" stroke="#27508f" stroke-width="1.15" stroke-linejoin="round"/>
<polyline points="195.20,545.80 212.92,474.47 230.64,496.59 248.36,500.87 283.80,510.15 319.24,520.81 354.68,526.00" fill="none" stroke="#9c93c9" stroke-width="1.15" stroke-linejoin="round"/>
<polyline points="195.20,546.85 212.92,470.37 230.64,496.78 248.36,500.49 283.80,510.15 319.24,523.62 354.68,541.07" fill="none" stroke="#4b1f5e" stroke-width="1.15" stroke-linejoin="round"/>
<path d="M195.20 523.27L196.90 524.97L195.20 526.67L193.50 524.97Z" fill="#f2c12e"/>
<path d="M195.20 546.09L196.70 547.59L195.20 549.09L193.70 547.59Z" fill="#e0357e"/>
<path d="M212.92 485.84L214.42 487.34L212.92 488.84L211.42 487.34Z" fill="#e0357e"/>
<path d="M230.64 513.24L232.14 514.74L230.64 516.24L229.14 514.74Z" fill="#e0357e"/>
<path d="M283.80 526.77L285.30 528.27L283.80 529.77L282.30 528.27Z" fill="#e0357e"/>
<path d="M319.24 539.57L320.74 541.07L319.24 542.57L317.74 541.07Z" fill="#e0357e"/>
<path d="M195.20 546.09L196.70 547.59L195.20 549.09L193.70 547.59Z" fill="#c8102e"/>
<path d="M212.92 483.29L214.42 484.79L212.92 486.29L211.42 484.79Z" fill="#c8102e"/>
<path d="M230.64 510.00L232.14 511.50L230.64 513.00L229.14 511.50Z" fill="#c8102e"/>
<path d="M283.80 525.60L285.30 527.10L283.80 528.60L282.30 527.10Z" fill="#c8102e"/>
<path d="M319.24 536.51L320.74 538.01L319.24 539.51L317.74 538.01Z" fill="#c8102e"/>
<circle cx="195.20" cy="547.59" r="1.6" fill="#00695c"/>
<circle cx="212.92" cy="483.00" r="1.6" fill="#00695c"/>
<circle cx="230.64" cy="500.87" r="1.6" fill="#00695c"/>
<circle cx="283.80" cy="515.30" r="1.6" fill="#00695c"/>
<circle cx="319.24" cy="524.97" r="1.6" fill="#00695c"/>
<circle cx="354.68" cy="532.85" r="1.6" fill="#00695c"/>
<path d="M195.20 548.10L196.70 549.60L195.20 551.10L193.70 549.60Z" fill="#4aaee0"/>
<path d="M212.92 479.88L214.42 481.38L212.92 482.88L211.42 481.38Z" fill="#4aaee0"/>
<path d="M230.64 500.63L232.14 502.13L230.64 503.63L229.14 502.13Z" fill="#4aaee0"/>
<path d="M283.80 514.97L285.30 516.47L283.80 517.97L282.30 516.47Z" fill="#4aaee0"/>
<path d="M319.24 530.27L320.74 531.77L319.24 533.27L317.74 531.77Z" fill="#4aaee0"/>
<path d="M354.68 538.09L356.18 539.59L354.68 541.09L353.18 539.59Z" fill="#4aaee0"/>
<path d="M195.20 546.09L196.70 547.59L195.20 549.09L193.70 547.59Z" fill="#27508f"/>
<path d="M212.92 479.12L214.42 480.62L212.92 482.12L211.42 480.62Z" fill="#27508f"/>
<path d="M230.64 497.10L232.14 498.60L230.64 500.10L229.14 498.60Z" fill="#27508f"/>
<path d="M283.80 512.17L285.30 513.67L283.80 515.17L282.30 513.67Z" fill="#27508f"/>
<path d="M319.24 522.97L320.74 524.47L319.24 525.97L317.74 524.47Z" fill="#27508f"/>
<path d="M354.68 530.88L356.18 532.38L354.68 533.88L353.18 532.38Z" fill="#27508f"/>
<path d="M195.20 544.30L196.70 545.80L195.20 547.30L193.70 545.80Z" fill="#9c93c9"/>
<path d="M212.92 472.97L214.42 474.47L212.92 475.97L211.42 474.47Z" fill="#9c93c9"/>
<path d="M230.64 495.09L232.14 496.59L230.64 498.09L229.14 496.59Z" fill="#9c93c9"/>
<path d="M248.36 499.37L249.86 500.87L248.36 502.37L246.86 500.87Z" fill="#9c93c9"/>
<path d="M283.80 508.65L285.30 510.15L283.80 511.65L282.30 510.15Z" fill="#9c93c9"/>
<path d="M319.24 519.31L320.74 520.81L319.24 522.31L317.74 520.81Z" fill="#9c93c9"/>
<path d="M354.68 524.50L356.18 526.00L354.68 527.50L353.18 526.00Z" fill="#9c93c9"/>
<circle cx="195.20" cy="546.85" r="1.6" fill="#4b1f5e"/>
<circle cx="212.92" cy="470.37" r="1.6" fill="#4b1f5e"/>
<circle cx="230.64" cy="496.78" r="1.6" fill="#4b1f5e"/>
<circle cx="248.36" cy="500.49" r="1.6" fill="#4b1f5e"/>
<circle cx="283.80" cy="510.15" r="1.6" fill="#4b1f5e"/>
<circle cx="319.24" cy="523.62" r="1.6" fill="#4b1f5e"/>
<circle cx="354.68" cy="541.07" r="1.6" fill="#4b1f5e"/>
<line x1="146.70" y1="614.50" x2="154.10" y2="614.50" stroke="#f2c12e" stroke-width="1.0"/>
<path d="M150.40 612.60L152.30 614.50L150.40 616.40L148.50 614.50Z" fill="#f2c12e"/>
<text x="157.30" y="616.85" font-size="6.7" fill="#333">0.001 mg/kg</text>
<line x1="146.70" y1="623.10" x2="154.10" y2="623.10" stroke="#45a845" stroke-width="1.0"/>
<path d="M150.40 621.20L152.30 623.10L150.40 625.00L148.50 623.10Z" fill="#45a845"/>
<text x="157.30" y="625.45" font-size="6.7" fill="#333">0.01 mg/kg</text>
<line x1="200.90" y1="614.50" x2="208.30" y2="614.50" stroke="#d9882c" stroke-width="1.0"/>
<path d="M204.60 612.60L206.50 614.50L204.60 616.40L202.70 614.50Z" fill="#d9882c"/>
<text x="210.90" y="616.85" font-size="6.7" fill="#333">0.1 mg/kg</text>
<line x1="200.90" y1="623.10" x2="208.30" y2="623.10" stroke="#e0357e" stroke-width="1.0"/>
<path d="M204.60 621.20L206.50 623.10L204.60 625.00L202.70 623.10Z" fill="#e0357e"/>
<text x="210.90" y="625.45" font-size="6.7" fill="#333">0.2 mg/kg</text>
<line x1="247.80" y1="614.50" x2="255.20" y2="614.50" stroke="#c8102e" stroke-width="1.0"/>
<path d="M251.50 612.60L253.40 614.50L251.50 616.40L249.60 614.50Z" fill="#c8102e"/>
<text x="257.20" y="616.85" font-size="6.7" fill="#333">0.3 mg/kg</text>
<line x1="247.80" y1="623.10" x2="255.20" y2="623.10" stroke="#00695c" stroke-width="1.0"/>
<path d="M251.50 621.20L253.40 623.10L251.50 625.00L249.60 623.10Z" fill="#00695c"/>
<text x="257.20" y="625.45" font-size="6.7" fill="#333">0.4 mg/kg</text>
<line x1="294.30" y1="614.50" x2="301.70" y2="614.50" stroke="#4aaee0" stroke-width="1.0"/>
<path d="M298.00 612.60L299.90 614.50L298.00 616.40L296.10 614.50Z" fill="#4aaee0"/>
<text x="304.00" y="616.85" font-size="6.7" fill="#333">0.75 mg/kg</text>
<line x1="294.30" y1="623.10" x2="301.70" y2="623.10" stroke="#27508f" stroke-width="1.0"/>
<path d="M298.00 621.20L299.90 623.10L298.00 625.00L296.10 623.10Z" fill="#27508f"/>
<text x="304.00" y="625.45" font-size="6.7" fill="#333">1.5 mg/kg</text>
<line x1="343.30" y1="614.50" x2="350.70" y2="614.50" stroke="#9c93c9" stroke-width="1.0"/>
<path d="M347.00 612.60L348.90 614.50L347.00 616.40L345.10 614.50Z" fill="#9c93c9"/>
<text x="353.30" y="616.85" font-size="6.7" fill="#333">3 mg/kg</text>
<line x1="343.30" y1="623.10" x2="350.70" y2="623.10" stroke="#4b1f5e" stroke-width="1.0"/>
<path d="M347.00 621.20L348.90 623.10L347.00 625.00L345.10 623.10Z" fill="#4b1f5e"/>
<text x="353.30" y="625.45" font-size="6.7" fill="#333">6 mg/kg</text>
<rect x="0.50" y="0.50" width="519.00" height="633.00" fill="none" stroke="#4a4a4a" stroke-width="1.1"/>
</svg>
</body></html>
